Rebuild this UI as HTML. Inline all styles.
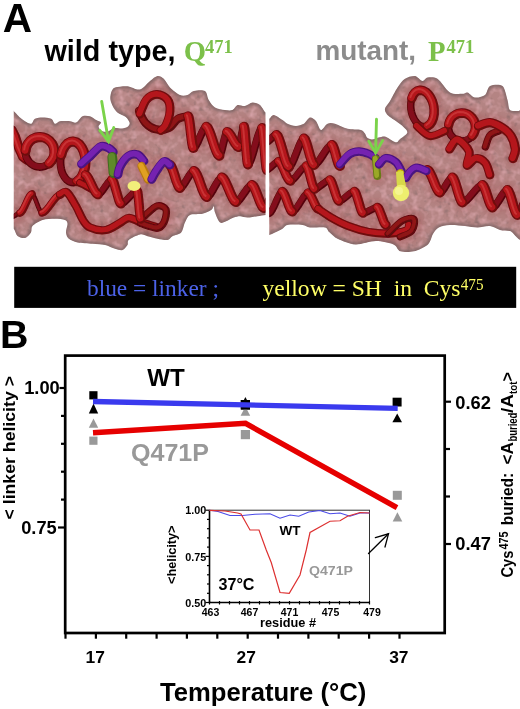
<!DOCTYPE html>
<html><head><meta charset="utf-8"><title>Figure</title>
<style>
html,body{margin:0;padding:0;background:#fff;}
svg{display:block}
.sb{font-family:"Liberation Sans",sans-serif;font-weight:bold}
.tb{font-family:"Liberation Serif",serif;font-weight:bold}
.tr{font-family:"Liberation Serif",serif}
</style></head><body>
<svg width="520" height="709" viewBox="0 0 520 709">
<rect width="520" height="709" fill="#fff"/>
<!-- PANEL A TITLES -->
<text class="sb" x="2.7" y="32.1" font-size="40.6">A</text>
<text class="sb" x="44.5" y="60.7" font-size="28.7" textLength="131" lengthAdjust="spacingAndGlyphs">wild type,</text>
<text class="tb" x="183.7" y="61.2" font-size="28.7" fill="#7cc04a">Q</text>
<text class="tb" x="205" y="52.5" font-size="18.5" fill="#7cc04a">471</text>
<text class="sb" x="315.4" y="60.4" font-size="28" fill="#8c8c8c" textLength="100.6" lengthAdjust="spacingAndGlyphs">mutant,</text>
<text class="tb" x="428" y="61" font-size="28.7" fill="#7cc04a">P</text>
<text class="tb" x="446.5" y="53" font-size="18.5" fill="#7cc04a">471</text>
<!-- PROTEINS -->
<defs>
<filter id="mott" x="0" y="0" width="100%" height="100%" color-interpolation-filters="sRGB">
<feTurbulence type="fractalNoise" baseFrequency="0.16" numOctaves="2" seed="7" result="n"/>
<feColorMatrix in="n" type="matrix" values="0 0 0 0 0.84  0 0 0 0 0.64  0 0 0 0 0.66  2.2 0 0 0 -0.95" result="light"/>
<feColorMatrix in="n" type="matrix" values="0 0 0 0 0.5  0 0 0 0 0.4  0 0 0 0 0.4  0 -2.0 0 0 0.85" result="dark"/>
<feMerge result="m"><feMergeNode in="SourceGraphic"/><feMergeNode in="dark"/><feMergeNode in="light"/></feMerge>
<feComposite in="m" in2="SourceGraphic" operator="in"/>
</filter>
<filter id="soft" x="-5%" y="-5%" width="110%" height="110%"><feGaussianBlur stdDeviation="0.7"/></filter>
<filter id="soft2" x="-5%" y="-5%" width="110%" height="110%"><feGaussianBlur stdDeviation="0.5"/></filter>
<filter id="rim" x="-5%" y="-5%" width="110%" height="110%"><feGaussianBlur stdDeviation="1.3"/></filter>
<filter id="shad" x="-10%" y="-10%" width="120%" height="120%"><feGaussianBlur stdDeviation="4"/></filter>
<clipPath id="clipL"><rect x="13.75" y="60" width="251.75" height="200"/></clipPath>
<clipPath id="clipR"><rect x="269.25" y="60" width="251" height="200"/></clipPath>
<clipPath id="blobL"><path d="M13.8,111.2C15.4,112.1 18.3,116.0 20.0,117.5C21.7,119.0 23.3,120.3 25.0,121.2C26.7,122.2 29.8,124.1 31.2,123.8C32.8,123.4 33.3,119.7 35.0,118.8C36.7,117.8 40.1,117.5 42.5,117.5C44.9,117.5 49.4,117.8 51.2,118.8C53.1,119.7 53.7,123.4 55.0,123.8C56.3,124.1 57.8,121.6 60.0,121.2C62.2,120.9 67.6,121.1 70.0,121.2C72.4,121.4 74.4,123.2 76.2,122.5C78.1,121.8 80.4,117.2 82.5,116.2C84.6,115.3 87.9,115.7 90.0,116.2C92.1,116.8 94.6,119.1 96.2,120.0C97.9,120.9 100.7,121.5 101.0,122.5C101.3,123.5 98.4,125.2 98.5,126.5C98.6,127.8 100.1,130.2 101.5,131.0C102.9,131.8 106.1,131.9 108.0,131.5C109.9,131.1 111.9,128.4 114.0,128.0C116.1,127.5 119.9,128.7 122.0,128.5C124.1,128.3 126.9,127.4 128.0,126.5C129.1,125.6 129.9,124.1 129.6,122.7C129.3,121.3 127.5,118.5 125.8,117.0C124.1,115.5 119.9,114.5 118.0,113.0C116.1,111.5 114.4,109.3 113.3,107.3C112.2,105.3 110.7,101.9 110.4,99.6C110.1,97.3 110.6,93.8 111.3,92.0C112.0,90.2 112.6,88.4 115.0,87.5C117.4,86.6 123.8,86.0 127.5,86.2C131.2,86.5 136.6,90.3 140.0,89.5C143.4,88.7 147.4,83.0 150.0,81.0C152.6,79.0 155.4,76.3 157.5,76.0C159.6,75.7 161.9,77.0 163.8,78.8C165.6,80.5 167.6,85.1 170.0,87.5C172.4,89.9 177.4,93.9 180.0,95.0C182.6,96.1 185.4,95.6 187.5,95.0C189.6,94.4 191.1,91.6 193.8,91.0C196.4,90.4 202.8,89.7 205.0,91.0C207.2,92.3 207.2,97.5 208.8,100.0C210.2,102.5 212.6,106.0 215.0,107.5C217.4,109.0 222.4,109.6 225.0,110.0C227.6,110.4 230.6,110.8 232.5,110.0C234.4,109.2 235.6,105.6 237.5,105.0C239.4,104.4 242.8,106.4 245.0,106.0C247.2,105.6 250.2,102.7 252.5,102.5C254.8,102.3 258.1,103.5 260.0,105.0C261.9,106.5 264.0,111.3 265.5,112.5C267.0,113.7 269.3,97.6 270.0,113.0C270.7,128.4 270.7,199.7 270.0,215.0C269.3,230.3 267.4,214.8 265.5,215.0C263.6,215.2 260.2,215.9 257.5,216.2C254.8,216.6 250.1,217.5 247.5,217.5C244.9,217.5 242.1,216.2 240.0,216.2C237.9,216.2 235.8,216.8 233.8,217.5C231.7,218.2 228.3,220.5 226.2,221.2C224.2,222.0 221.7,223.8 220.0,222.5C218.3,221.2 215.9,214.9 215.0,212.5C214.1,210.1 214.3,206.6 213.8,206.2C213.2,205.9 212.9,208.9 211.2,210.0C209.6,211.1 205.7,213.0 202.5,213.8C199.3,214.5 192.6,213.7 190.0,215.0C187.4,216.3 186.3,219.9 185.0,222.5C183.7,225.1 183.1,230.4 181.2,232.5C179.4,234.6 174.6,235.1 172.5,236.2C170.4,237.4 169.8,239.6 167.5,240.0C165.2,240.4 160.5,239.3 157.5,238.8C154.5,238.2 150.1,236.9 147.5,236.2C144.9,235.6 142.8,233.9 140.0,234.5C137.2,235.1 130.6,238.4 128.8,240.0C126.9,241.6 128.4,243.5 127.5,245.0C126.6,246.5 124.4,249.4 122.5,250.0C120.6,250.6 117.6,249.5 115.0,248.8C112.4,248.0 108.4,245.8 105.0,245.0C101.6,244.2 96.6,244.1 92.5,243.8C88.4,243.4 81.1,243.2 77.5,242.5C73.9,241.8 70.5,240.2 68.8,238.8C67.0,237.2 66.2,234.8 66.0,232.5C65.8,230.2 67.7,225.6 67.5,223.8C67.3,221.9 66.9,220.8 65.0,220.0C63.1,219.2 58.4,218.8 55.0,218.8C51.6,218.8 45.9,218.9 42.5,220.0C39.1,221.1 34.2,224.1 32.5,226.0C30.8,227.9 32.1,230.7 31.0,232.5C29.9,234.3 27.0,237.5 25.0,238.0C23.0,238.5 19.2,237.4 17.5,236.0C15.8,234.6 15.0,230.2 13.8,228.8C12.5,227.2 9.7,243.5 9.0,226.0C8.3,208.5 8.3,129.2 9.0,112.0C9.7,94.8 12.1,110.4 13.8,111.2Z"/></clipPath>
<clipPath id="blobR"><path d="M265.0,120.0C265.6,102.4 267.9,119.5 269.2,118.8C270.6,118.0 271.8,114.8 273.8,115.0C275.7,115.2 280.4,118.7 282.5,120.0C284.6,121.3 285.5,122.8 287.5,123.8C289.5,124.7 293.6,126.0 296.0,126.0C298.4,126.0 301.6,125.0 303.8,123.8C305.9,122.5 308.2,117.9 310.0,117.5C311.8,117.1 314.4,119.1 316.0,121.0C317.6,122.9 319.3,129.6 321.0,130.0C322.7,130.4 325.4,124.7 327.5,123.8C329.6,122.8 332.0,123.0 335.0,123.8C338.0,124.5 343.6,127.8 347.5,128.8C351.4,129.7 358.4,129.3 361.0,130.0C363.6,130.7 364.1,132.5 365.0,133.6C365.9,134.7 365.9,136.6 367.0,137.5C368.1,138.4 370.3,139.5 372.0,139.5C373.7,139.5 376.6,137.9 378.5,137.5C380.4,137.1 383.0,136.1 385.0,136.5C387.0,136.9 390.2,139.5 392.0,140.4C393.8,141.3 395.6,142.5 396.7,142.3C397.8,142.2 398.0,140.8 399.6,139.4C401.2,138.0 406.7,134.6 407.3,132.7C407.9,130.8 405.2,128.8 403.5,127.0C401.8,125.2 398.3,122.9 395.8,121.0C393.3,119.1 388.6,116.3 387.0,114.4C385.4,112.5 384.6,110.6 385.0,108.6C385.4,106.6 388.1,104.2 390.0,101.0C391.9,97.8 395.2,90.8 397.5,87.5C399.8,84.2 402.4,80.5 405.0,78.8C407.6,77.0 412.4,75.7 415.0,76.0C417.6,76.3 420.6,80.8 422.5,81.0C424.4,81.2 425.2,77.8 427.5,77.5C429.8,77.2 434.1,76.5 437.5,78.8C440.9,81.0 446.2,90.2 450.0,92.5C453.8,94.8 459.9,93.8 462.5,93.8C465.1,93.8 465.6,91.9 467.5,92.5C469.4,93.1 472.4,97.1 475.0,97.5C477.6,97.9 482.8,96.7 485.0,95.0C487.2,93.3 487.4,87.3 490.0,86.0C492.6,84.7 499.9,83.9 502.5,86.0C505.1,88.1 506.4,96.4 507.5,100.0C508.6,103.6 508.3,108.3 510.0,110.0C511.7,111.7 516.5,110.7 518.8,111.0C521.0,111.3 524.1,93.8 525.0,112.0C525.9,130.2 527.2,214.7 525.0,232.5C522.8,250.3 513.8,231.4 510.0,231.0C506.2,230.6 503.0,230.8 500.0,230.0C497.0,229.2 493.4,226.4 490.0,226.0C486.6,225.6 481.2,227.5 477.5,227.5C473.8,227.5 469.1,226.4 465.0,226.0C460.9,225.6 453.9,224.8 450.0,225.0C446.1,225.2 441.3,226.2 438.8,227.5C436.2,228.8 434.6,231.5 433.0,234.0C431.4,236.5 430.9,241.8 428.0,244.4C425.1,247.0 418.1,250.3 414.0,251.3C409.9,252.3 403.5,252.3 400.4,251.3C397.3,250.3 397.2,245.9 393.5,244.4C389.8,242.9 381.7,241.0 376.0,241.0C370.3,241.0 361.1,244.7 355.4,244.4C349.7,244.1 341.9,240.8 338.0,239.0C334.1,237.2 331.3,234.0 329.4,232.3C327.4,230.6 327.9,228.2 325.0,227.5C322.1,226.8 313.4,227.9 310.0,227.5C306.6,227.1 305.9,225.4 302.5,225.0C299.1,224.6 290.5,224.4 287.5,225.0C284.5,225.6 284.4,227.6 282.5,228.8C280.6,229.9 277.0,231.6 275.0,232.5C273.0,233.4 270.8,234.5 269.2,235.0C267.8,235.5 265.6,253.2 265.0,236.0C264.4,218.8 264.4,137.6 265.0,120.0Z"/></clipPath>
</defs>
<g id="protL" clip-path="url(#clipL)">
<g filter="url(#soft)"><path d="M13.8,111.2C15.4,112.1 18.3,116.0 20.0,117.5C21.7,119.0 23.3,120.3 25.0,121.2C26.7,122.2 29.8,124.1 31.2,123.8C32.8,123.4 33.3,119.7 35.0,118.8C36.7,117.8 40.1,117.5 42.5,117.5C44.9,117.5 49.4,117.8 51.2,118.8C53.1,119.7 53.7,123.4 55.0,123.8C56.3,124.1 57.8,121.6 60.0,121.2C62.2,120.9 67.6,121.1 70.0,121.2C72.4,121.4 74.4,123.2 76.2,122.5C78.1,121.8 80.4,117.2 82.5,116.2C84.6,115.3 87.9,115.7 90.0,116.2C92.1,116.8 94.6,119.1 96.2,120.0C97.9,120.9 100.7,121.5 101.0,122.5C101.3,123.5 98.4,125.2 98.5,126.5C98.6,127.8 100.1,130.2 101.5,131.0C102.9,131.8 106.1,131.9 108.0,131.5C109.9,131.1 111.9,128.4 114.0,128.0C116.1,127.5 119.9,128.7 122.0,128.5C124.1,128.3 126.9,127.4 128.0,126.5C129.1,125.6 129.9,124.1 129.6,122.7C129.3,121.3 127.5,118.5 125.8,117.0C124.1,115.5 119.9,114.5 118.0,113.0C116.1,111.5 114.4,109.3 113.3,107.3C112.2,105.3 110.7,101.9 110.4,99.6C110.1,97.3 110.6,93.8 111.3,92.0C112.0,90.2 112.6,88.4 115.0,87.5C117.4,86.6 123.8,86.0 127.5,86.2C131.2,86.5 136.6,90.3 140.0,89.5C143.4,88.7 147.4,83.0 150.0,81.0C152.6,79.0 155.4,76.3 157.5,76.0C159.6,75.7 161.9,77.0 163.8,78.8C165.6,80.5 167.6,85.1 170.0,87.5C172.4,89.9 177.4,93.9 180.0,95.0C182.6,96.1 185.4,95.6 187.5,95.0C189.6,94.4 191.1,91.6 193.8,91.0C196.4,90.4 202.8,89.7 205.0,91.0C207.2,92.3 207.2,97.5 208.8,100.0C210.2,102.5 212.6,106.0 215.0,107.5C217.4,109.0 222.4,109.6 225.0,110.0C227.6,110.4 230.6,110.8 232.5,110.0C234.4,109.2 235.6,105.6 237.5,105.0C239.4,104.4 242.8,106.4 245.0,106.0C247.2,105.6 250.2,102.7 252.5,102.5C254.8,102.3 258.1,103.5 260.0,105.0C261.9,106.5 264.0,111.3 265.5,112.5C267.0,113.7 269.3,97.6 270.0,113.0C270.7,128.4 270.7,199.7 270.0,215.0C269.3,230.3 267.4,214.8 265.5,215.0C263.6,215.2 260.2,215.9 257.5,216.2C254.8,216.6 250.1,217.5 247.5,217.5C244.9,217.5 242.1,216.2 240.0,216.2C237.9,216.2 235.8,216.8 233.8,217.5C231.7,218.2 228.3,220.5 226.2,221.2C224.2,222.0 221.7,223.8 220.0,222.5C218.3,221.2 215.9,214.9 215.0,212.5C214.1,210.1 214.3,206.6 213.8,206.2C213.2,205.9 212.9,208.9 211.2,210.0C209.6,211.1 205.7,213.0 202.5,213.8C199.3,214.5 192.6,213.7 190.0,215.0C187.4,216.3 186.3,219.9 185.0,222.5C183.7,225.1 183.1,230.4 181.2,232.5C179.4,234.6 174.6,235.1 172.5,236.2C170.4,237.4 169.8,239.6 167.5,240.0C165.2,240.4 160.5,239.3 157.5,238.8C154.5,238.2 150.1,236.9 147.5,236.2C144.9,235.6 142.8,233.9 140.0,234.5C137.2,235.1 130.6,238.4 128.8,240.0C126.9,241.6 128.4,243.5 127.5,245.0C126.6,246.5 124.4,249.4 122.5,250.0C120.6,250.6 117.6,249.5 115.0,248.8C112.4,248.0 108.4,245.8 105.0,245.0C101.6,244.2 96.6,244.1 92.5,243.8C88.4,243.4 81.1,243.2 77.5,242.5C73.9,241.8 70.5,240.2 68.8,238.8C67.0,237.2 66.2,234.8 66.0,232.5C65.8,230.2 67.7,225.6 67.5,223.8C67.3,221.9 66.9,220.8 65.0,220.0C63.1,219.2 58.4,218.8 55.0,218.8C51.6,218.8 45.9,218.9 42.5,220.0C39.1,221.1 34.2,224.1 32.5,226.0C30.8,227.9 32.1,230.7 31.0,232.5C29.9,234.3 27.0,237.5 25.0,238.0C23.0,238.5 19.2,237.4 17.5,236.0C15.8,234.6 15.0,230.2 13.8,228.8C12.5,227.2 9.7,243.5 9.0,226.0C8.3,208.5 8.3,129.2 9.0,112.0C9.7,94.8 12.1,110.4 13.8,111.2Z" fill="#b48483" filter="url(#mott)"/><g clip-path="url(#blobL)"><path d="M13.8,111.2C15.4,112.1 18.3,116.0 20.0,117.5C21.7,119.0 23.3,120.3 25.0,121.2C26.7,122.2 29.8,124.1 31.2,123.8C32.8,123.4 33.3,119.7 35.0,118.8C36.7,117.8 40.1,117.5 42.5,117.5C44.9,117.5 49.4,117.8 51.2,118.8C53.1,119.7 53.7,123.4 55.0,123.8C56.3,124.1 57.8,121.6 60.0,121.2C62.2,120.9 67.6,121.1 70.0,121.2C72.4,121.4 74.4,123.2 76.2,122.5C78.1,121.8 80.4,117.2 82.5,116.2C84.6,115.3 87.9,115.7 90.0,116.2C92.1,116.8 94.6,119.1 96.2,120.0C97.9,120.9 100.7,121.5 101.0,122.5C101.3,123.5 98.4,125.2 98.5,126.5C98.6,127.8 100.1,130.2 101.5,131.0C102.9,131.8 106.1,131.9 108.0,131.5C109.9,131.1 111.9,128.4 114.0,128.0C116.1,127.5 119.9,128.7 122.0,128.5C124.1,128.3 126.9,127.4 128.0,126.5C129.1,125.6 129.9,124.1 129.6,122.7C129.3,121.3 127.5,118.5 125.8,117.0C124.1,115.5 119.9,114.5 118.0,113.0C116.1,111.5 114.4,109.3 113.3,107.3C112.2,105.3 110.7,101.9 110.4,99.6C110.1,97.3 110.6,93.8 111.3,92.0C112.0,90.2 112.6,88.4 115.0,87.5C117.4,86.6 123.8,86.0 127.5,86.2C131.2,86.5 136.6,90.3 140.0,89.5C143.4,88.7 147.4,83.0 150.0,81.0C152.6,79.0 155.4,76.3 157.5,76.0C159.6,75.7 161.9,77.0 163.8,78.8C165.6,80.5 167.6,85.1 170.0,87.5C172.4,89.9 177.4,93.9 180.0,95.0C182.6,96.1 185.4,95.6 187.5,95.0C189.6,94.4 191.1,91.6 193.8,91.0C196.4,90.4 202.8,89.7 205.0,91.0C207.2,92.3 207.2,97.5 208.8,100.0C210.2,102.5 212.6,106.0 215.0,107.5C217.4,109.0 222.4,109.6 225.0,110.0C227.6,110.4 230.6,110.8 232.5,110.0C234.4,109.2 235.6,105.6 237.5,105.0C239.4,104.4 242.8,106.4 245.0,106.0C247.2,105.6 250.2,102.7 252.5,102.5C254.8,102.3 258.1,103.5 260.0,105.0C261.9,106.5 264.0,111.3 265.5,112.5C267.0,113.7 269.3,97.6 270.0,113.0C270.7,128.4 270.7,199.7 270.0,215.0C269.3,230.3 267.4,214.8 265.5,215.0C263.6,215.2 260.2,215.9 257.5,216.2C254.8,216.6 250.1,217.5 247.5,217.5C244.9,217.5 242.1,216.2 240.0,216.2C237.9,216.2 235.8,216.8 233.8,217.5C231.7,218.2 228.3,220.5 226.2,221.2C224.2,222.0 221.7,223.8 220.0,222.5C218.3,221.2 215.9,214.9 215.0,212.5C214.1,210.1 214.3,206.6 213.8,206.2C213.2,205.9 212.9,208.9 211.2,210.0C209.6,211.1 205.7,213.0 202.5,213.8C199.3,214.5 192.6,213.7 190.0,215.0C187.4,216.3 186.3,219.9 185.0,222.5C183.7,225.1 183.1,230.4 181.2,232.5C179.4,234.6 174.6,235.1 172.5,236.2C170.4,237.4 169.8,239.6 167.5,240.0C165.2,240.4 160.5,239.3 157.5,238.8C154.5,238.2 150.1,236.9 147.5,236.2C144.9,235.6 142.8,233.9 140.0,234.5C137.2,235.1 130.6,238.4 128.8,240.0C126.9,241.6 128.4,243.5 127.5,245.0C126.6,246.5 124.4,249.4 122.5,250.0C120.6,250.6 117.6,249.5 115.0,248.8C112.4,248.0 108.4,245.8 105.0,245.0C101.6,244.2 96.6,244.1 92.5,243.8C88.4,243.4 81.1,243.2 77.5,242.5C73.9,241.8 70.5,240.2 68.8,238.8C67.0,237.2 66.2,234.8 66.0,232.5C65.8,230.2 67.7,225.6 67.5,223.8C67.3,221.9 66.9,220.8 65.0,220.0C63.1,219.2 58.4,218.8 55.0,218.8C51.6,218.8 45.9,218.9 42.5,220.0C39.1,221.1 34.2,224.1 32.5,226.0C30.8,227.9 32.1,230.7 31.0,232.5C29.9,234.3 27.0,237.5 25.0,238.0C23.0,238.5 19.2,237.4 17.5,236.0C15.8,234.6 15.0,230.2 13.8,228.8C12.5,227.2 9.7,243.5 9.0,226.0C8.3,208.5 8.3,129.2 9.0,112.0C9.7,94.8 12.1,110.4 13.8,111.2Z" fill="none" stroke="#7d6464" stroke-width="5" opacity="0.75" filter="url(#rim)"/></g></g>
<g clip-path="url(#blobL)"><g fill="none" stroke="#98282c" stroke-width="14" stroke-linecap="round" opacity="0.3" filter="url(#shad)"><path d="M12.0,217.0L12.8,216.8L13.8,216.4L14.9,215.8L16.0,215.0L17.1,214.2L18.2,213.6L19.2,213.2L20.0,213.0"/><path d="M20.0,213.0L21.2,212.3L22.7,210.2L24.3,207.1L26.0,203.5L27.7,199.9L29.3,196.8L30.8,194.7L32.0,194.0"/><path d="M32.0,194.0L33.0,194.7L34.2,196.8L35.6,199.9L37.0,203.5L38.4,207.1L39.8,210.2L41.0,212.3L42.0,213.0"/><path d="M42.0,213.0L43.9,212.3L46.0,210.4L48.5,207.4L51.0,204.0L53.5,200.6L56.0,197.6L58.1,195.7L60.0,195.0"/><path d="M60.0,194.6C61.2,194.2 64.3,190.6 67.0,192.5C69.7,194.4 73.3,201.4 76.0,206.0C78.7,210.6 80.7,216.4 83.0,220.0C85.3,223.6 86.2,225.8 90.0,227.5C93.8,229.2 101.0,230.8 106.0,230.0C111.0,229.2 116.2,225.0 120.0,223.0C123.8,221.0 125.5,218.1 129.0,218.0C132.5,217.9 136.1,220.7 140.8,222.3C145.5,223.9 154.3,226.6 157.0,227.5"/><path d="M145.4,215.4C147.3,213.8 153.6,207.0 157.0,206.0C160.4,205.0 164.8,206.9 166.0,209.6C167.2,212.3 165.5,219.2 164.0,222.3C162.5,225.4 160.9,227.8 157.0,228.0C153.1,228.2 143.5,224.2 140.8,223.5"/><path d="M12.0,130.0L15.0,136.0L19.0,148.0L23.0,157.0L27.0,160.0"/><path d="M25.6,150.7L25.5,152.9L25.8,155.1L26.4,157.2L27.3,159.2L28.4,161.1L29.9,162.7L31.5,164.1L33.3,165.3L35.3,166.2L37.3,166.7L39.4,167.0L41.6,166.9L43.7,166.5L45.7,165.8L47.6,164.8L49.3,163.5"/><path d="M49.3,163.5L51.7,160.8L53.5,157.6L54.4,154.0L54.4,150.4L53.6,146.8L52.0,143.5L49.6,140.8L46.7,138.7L43.4,137.4L39.8,137.0L36.3,137.5L33.0,138.8L30.1,141.0L27.9,143.8L26.3,147.1L25.6,150.7"/><path d="M61.3,155.0L60.8,157.8L60.5,160.7L60.5,163.6L60.8,166.4L61.3,169.2L62.0,171.9L63.0,174.3L64.2,176.5L65.5,178.4L67.0,180.0L68.6,181.2L70.3,182.0L72.0,182.4L73.8,182.5L75.6,182.1L77.3,181.3"/><path d="M77.3,181.3L80.1,178.9L82.4,175.5L84.1,171.3L85.2,166.4L85.5,161.3L85.0,156.3L83.8,151.6L81.8,147.5L79.4,144.4L76.5,142.3L73.4,141.5L70.3,142.0L67.3,143.7L64.8,146.6L62.7,150.4L61.3,155.0"/><path d="M80.0,183.0C81.0,183.5 83.8,184.8 86.0,186.0C88.2,187.2 91.8,189.3 93.0,190.0"/><path d="M85.4,175.0L86.7,175.7L88.2,177.9L89.9,181.0L91.7,184.8L93.5,188.6L95.2,191.7L96.7,193.9L98.0,194.6"/><path d="M98.0,194.6L99.4,194.0L101.1,192.4L103.0,190.0L105.0,187.1L107.0,184.2L108.9,181.8L110.6,180.2L112.0,179.6"/><path d="M112.0,179.6L112.9,180.5L114.0,183.1L115.2,187.1L116.5,191.7L117.8,196.3L119.0,200.3L120.1,202.9L121.0,203.8"/><path d="M121.0,203.8L122.7,203.3L124.7,201.9L126.8,199.8L129.2,197.4L131.5,195.0L133.6,192.9L135.6,191.5L137.3,191.0"/><path d="M137.3,191.0L137.7,192.1L138.1,195.1L138.6,199.6L139.1,204.9L139.5,210.2L140.0,214.7L140.4,217.7L140.8,218.8"/><path d="M170.0,165.0L171.0,165.9L172.2,168.4L173.6,172.1L175.0,176.5L176.4,180.9L177.8,184.6L179.0,187.1L180.0,188.0"/><path d="M180.0,188.0L181.4,187.4L183.1,185.5L185.0,182.8L187.0,179.5L189.0,176.2L190.9,173.5L192.6,171.6L194.0,171.0"/><path d="M194.0,171.0L195.3,172.0L196.9,174.8L198.7,179.0L200.5,184.0L202.3,189.0L204.1,193.2L205.7,196.0L207.0,197.0"/><path d="M207.0,197.0L208.5,196.3L210.4,194.1L212.4,191.0L214.5,187.2L216.6,183.5L218.6,180.4L220.5,178.2L222.0,177.5"/><path d="M222.0,177.5L223.4,178.4L225.1,181.1L227.0,185.1L229.0,189.8L231.0,194.4L232.9,198.4L234.6,201.1L236.0,202.0"/><path d="M236.0,202.0L237.7,201.4L239.6,199.5L241.7,196.8L244.0,193.5L246.3,190.2L248.4,187.5L250.3,185.6L252.0,185.0"/><path d="M252.0,185.0L253.2,185.9L254.7,188.4L256.3,192.1L258.0,196.5L259.7,200.9L261.3,204.6L262.8,207.1L264.0,208.0"/><path d="M264.0,208.0L264.8,207.5L265.8,206.2L266.9,204.3L268.0,202.0L269.1,199.7L270.2,197.8L271.2,196.5L272.0,196.0"/><path d="M139.0,111.0C140.1,113.0 142.6,119.8 145.4,122.8C148.2,125.8 151.9,128.4 155.8,129.3C159.7,130.2 165.0,129.7 168.7,128.0C172.4,126.3 174.6,121.0 177.8,119.0C181.1,117.0 186.5,116.8 188.2,116.3"/><path d="M140.0,114.0C141.1,111.6 143.9,102.8 146.7,99.5C149.5,96.2 153.5,94.3 157.0,94.3C160.5,94.3 165.3,96.7 167.5,99.5C169.7,102.3 170.2,106.7 170.0,111.0C169.8,115.3 167.5,122.1 166.0,125.4C164.5,128.7 161.8,129.7 161.0,130.6"/><path d="M188.2,116.3L188.7,117.5L189.4,120.9L190.1,126.1L190.8,132.2L191.5,138.2L192.2,143.4L192.9,146.8L193.4,148.0"/><path d="M193.4,148.0L194.7,147.2L196.3,144.9L198.1,141.4L199.9,137.3L201.7,133.3L203.5,129.8L205.1,127.5L206.4,126.7"/><path d="M206.4,126.7L207.7,127.8L209.3,131.0L211.1,135.7L212.9,141.2L214.7,146.8L216.5,151.5L218.1,154.7L219.4,155.8"/><path d="M219.4,155.8L220.2,154.9L221.1,152.3L222.2,148.5L223.3,143.9L224.4,139.3L225.5,135.5L226.4,132.9L227.2,132.0"/><path d="M227.2,132.0L228.4,132.6L229.8,134.2L231.4,136.6L233.0,139.5L234.6,142.4L236.2,144.8L237.6,146.4L238.8,147.0"/><path d="M238.8,147.0L239.3,146.2L240.0,144.0L240.7,140.7L241.4,136.8L242.1,133.0L242.8,129.7L243.5,127.5L244.0,126.7"/><path d="M244.0,126.7L244.4,128.1L244.9,132.2L245.4,138.3L246.0,145.6L246.6,152.8L247.1,158.9L247.6,163.0L248.0,164.4"/><path d="M248.0,164.4L249.5,163.0L251.2,159.1L253.1,153.2L255.1,146.2L257.1,139.2L259.0,133.3L260.7,129.4L262.2,128.0"/><path d="M262.2,128.0L262.7,129.6L263.3,134.2L263.9,141.0L264.6,149.0L265.3,157.0L265.9,163.8L266.5,168.4L267.0,170.0"/><path d="M81.5,164.0C83.1,162.6 87.8,158.3 91.0,155.4C94.2,152.5 97.9,147.7 100.8,146.5C103.7,145.3 106.4,147.1 108.5,148.0C110.6,148.9 112.5,151.3 113.3,152.0"/><path d="M112.3,157.0C112.5,159.7 113.3,170.3 113.5,173.0"/><path d="M118.0,174.6C118.3,173.3 118.4,170.0 120.0,167.0C121.6,164.0 124.8,158.6 127.7,156.5C130.6,154.4 134.6,153.8 137.3,154.6C140.0,155.3 142.9,159.9 144.0,161.0"/><path d="M141.5,166.0C142.6,168.2 146.9,177.2 148.0,179.5"/><path d="M151.7,179.4C152.5,178.0 154.4,173.8 156.5,170.8C158.6,167.8 161.9,162.5 164.2,161.5C166.4,160.5 169.0,164.4 170.0,165.0"/></g></g>
<g fill="none" stroke-linecap="round" stroke-linejoin="round" filter="url(#soft2)">
<path d="M12.0,217.0L12.8,216.8L13.8,216.4L14.9,215.8L16.0,215.0L17.1,214.2L18.2,213.6L19.2,213.2L20.0,213.0" stroke="#56060a" stroke-width="4.7" />
<path d="M12.0,217.0L12.8,216.8L13.8,216.4L14.9,215.8L16.0,215.0L17.1,214.2L18.2,213.6L19.2,213.2L20.0,213.0" stroke="#84101a" stroke-width="2.5" transform="translate(-0.5,-0.4)"/>
<path d="M32.0,194.0L33.0,194.7L34.2,196.8L35.6,199.9L37.0,203.5L38.4,207.1L39.8,210.2L41.0,212.3L42.0,213.0" stroke="#56060a" stroke-width="4.7" />
<path d="M32.0,194.0L33.0,194.7L34.2,196.8L35.6,199.9L37.0,203.5L38.4,207.1L39.8,210.2L41.0,212.3L42.0,213.0" stroke="#84101a" stroke-width="2.5" transform="translate(-0.5,-0.4)"/>
<path d="M20.0,213.0L21.2,212.3L22.7,210.2L24.3,207.1L26.0,203.5L27.7,199.9L29.3,196.8L30.8,194.7L32.0,194.0" stroke="#6e080b" stroke-width="7.5" />
<path d="M20.0,213.0L21.2,212.3L22.7,210.2L24.3,207.1L26.0,203.5L27.7,199.9L29.3,196.8L30.8,194.7L32.0,194.0" stroke="#b4161a" stroke-width="4.5" transform="translate(-0.6,-0.5)"/>
<path d="M20.0,213.0L21.2,212.3L22.7,210.2L24.3,207.1L26.0,203.5L27.7,199.9L29.3,196.8L30.8,194.7L32.0,194.0" stroke="#cf3c3e" stroke-width="2" opacity="0.75" transform="translate(-1.4,-1.1)"/>
<path d="M42.0,213.0L43.9,212.3L46.0,210.4L48.5,207.4L51.0,204.0L53.5,200.6L56.0,197.6L58.1,195.7L60.0,195.0" stroke="#6e080b" stroke-width="7.5" />
<path d="M42.0,213.0L43.9,212.3L46.0,210.4L48.5,207.4L51.0,204.0L53.5,200.6L56.0,197.6L58.1,195.7L60.0,195.0" stroke="#b4161a" stroke-width="4.5" transform="translate(-0.6,-0.5)"/>
<path d="M42.0,213.0L43.9,212.3L46.0,210.4L48.5,207.4L51.0,204.0L53.5,200.6L56.0,197.6L58.1,195.7L60.0,195.0" stroke="#cf3c3e" stroke-width="2" opacity="0.75" transform="translate(-1.4,-1.1)"/>
<path d="M60.0,194.6C61.2,194.2 64.3,190.6 67.0,192.5C69.7,194.4 73.3,201.4 76.0,206.0C78.7,210.6 80.7,216.4 83.0,220.0C85.3,223.6 86.2,225.8 90.0,227.5C93.8,229.2 101.0,230.8 106.0,230.0C111.0,229.2 116.2,225.0 120.0,223.0C123.8,221.0 125.5,218.1 129.0,218.0C132.5,217.9 136.1,220.7 140.8,222.3C145.5,223.9 154.3,226.6 157.0,227.5" stroke="#6e080b" stroke-width="8.3"/>
<path d="M60.0,194.6C61.2,194.2 64.3,190.6 67.0,192.5C69.7,194.4 73.3,201.4 76.0,206.0C78.7,210.6 80.7,216.4 83.0,220.0C85.3,223.6 86.2,225.8 90.0,227.5C93.8,229.2 101.0,230.8 106.0,230.0C111.0,229.2 116.2,225.0 120.0,223.0C123.8,221.0 125.5,218.1 129.0,218.0C132.5,217.9 136.1,220.7 140.8,222.3C145.5,223.9 154.3,226.6 157.0,227.5" stroke="#b4161a" stroke-width="5.300000000000001" transform="translate(-0.6,-0.5)"/>
<path d="M145.4,215.4C147.3,213.8 153.6,207.0 157.0,206.0C160.4,205.0 164.8,206.9 166.0,209.6C167.2,212.3 165.5,219.2 164.0,222.3C162.5,225.4 160.9,227.8 157.0,228.0C153.1,228.2 143.5,224.2 140.8,223.5" stroke="#5e070a" stroke-width="7.3"/>
<path d="M145.4,215.4C147.3,213.8 153.6,207.0 157.0,206.0C160.4,205.0 164.8,206.9 166.0,209.6C167.2,212.3 165.5,219.2 164.0,222.3C162.5,225.4 160.9,227.8 157.0,228.0C153.1,228.2 143.5,224.2 140.8,223.5" stroke="#8e1218" stroke-width="4.3" transform="translate(-0.6,-0.5)"/>
<path d="M12.0,130.0L15.0,136.0L19.0,148.0L23.0,157.0L27.0,160.0" stroke="#6e080b" stroke-width="9.5" />
<path d="M12.0,130.0L15.0,136.0L19.0,148.0L23.0,157.0L27.0,160.0" stroke="#b4161a" stroke-width="6.5" transform="translate(-0.6,-0.5)"/>
<path d="M12.0,130.0L15.0,136.0L19.0,148.0L23.0,157.0L27.0,160.0" stroke="#cf3c3e" stroke-width="2" opacity="0.75" transform="translate(-1.4,-1.1)"/>
<path d="M25.6,150.7L25.5,152.9L25.8,155.1L26.4,157.2L27.3,159.2L28.4,161.1L29.9,162.7L31.5,164.1L33.3,165.3L35.3,166.2L37.3,166.7L39.4,167.0L41.6,166.9L43.7,166.5L45.7,165.8L47.6,164.8L49.3,163.5" stroke="#56060a" stroke-width="7.8" />
<path d="M25.6,150.7L25.5,152.9L25.8,155.1L26.4,157.2L27.3,159.2L28.4,161.1L29.9,162.7L31.5,164.1L33.3,165.3L35.3,166.2L37.3,166.7L39.4,167.0L41.6,166.9L43.7,166.5L45.7,165.8L47.6,164.8L49.3,163.5" stroke="#84101a" stroke-width="5.6" transform="translate(-0.5,-0.4)"/>
<path d="M49.3,163.5L51.7,160.8L53.5,157.6L54.4,154.0L54.4,150.4L53.6,146.8L52.0,143.5L49.6,140.8L46.7,138.7L43.4,137.4L39.8,137.0L36.3,137.5L33.0,138.8L30.1,141.0L27.9,143.8L26.3,147.1L25.6,150.7" stroke="#6e080b" stroke-width="10" />
<path d="M49.3,163.5L51.7,160.8L53.5,157.6L54.4,154.0L54.4,150.4L53.6,146.8L52.0,143.5L49.6,140.8L46.7,138.7L43.4,137.4L39.8,137.0L36.3,137.5L33.0,138.8L30.1,141.0L27.9,143.8L26.3,147.1L25.6,150.7" stroke="#b4161a" stroke-width="7" transform="translate(-0.6,-0.5)"/>
<path d="M49.3,163.5L51.7,160.8L53.5,157.6L54.4,154.0L54.4,150.4L53.6,146.8L52.0,143.5L49.6,140.8L46.7,138.7L43.4,137.4L39.8,137.0L36.3,137.5L33.0,138.8L30.1,141.0L27.9,143.8L26.3,147.1L25.6,150.7" stroke="#cf3c3e" stroke-width="2" opacity="0.75" transform="translate(-1.4,-1.1)"/>
<path d="M61.3,155.0L60.8,157.8L60.5,160.7L60.5,163.6L60.8,166.4L61.3,169.2L62.0,171.9L63.0,174.3L64.2,176.5L65.5,178.4L67.0,180.0L68.6,181.2L70.3,182.0L72.0,182.4L73.8,182.5L75.6,182.1L77.3,181.3" stroke="#56060a" stroke-width="7.8" />
<path d="M61.3,155.0L60.8,157.8L60.5,160.7L60.5,163.6L60.8,166.4L61.3,169.2L62.0,171.9L63.0,174.3L64.2,176.5L65.5,178.4L67.0,180.0L68.6,181.2L70.3,182.0L72.0,182.4L73.8,182.5L75.6,182.1L77.3,181.3" stroke="#84101a" stroke-width="5.6" transform="translate(-0.5,-0.4)"/>
<path d="M77.3,181.3L80.1,178.9L82.4,175.5L84.1,171.3L85.2,166.4L85.5,161.3L85.0,156.3L83.8,151.6L81.8,147.5L79.4,144.4L76.5,142.3L73.4,141.5L70.3,142.0L67.3,143.7L64.8,146.6L62.7,150.4L61.3,155.0" stroke="#6e080b" stroke-width="10" />
<path d="M77.3,181.3L80.1,178.9L82.4,175.5L84.1,171.3L85.2,166.4L85.5,161.3L85.0,156.3L83.8,151.6L81.8,147.5L79.4,144.4L76.5,142.3L73.4,141.5L70.3,142.0L67.3,143.7L64.8,146.6L62.7,150.4L61.3,155.0" stroke="#b4161a" stroke-width="7" transform="translate(-0.6,-0.5)"/>
<path d="M77.3,181.3L80.1,178.9L82.4,175.5L84.1,171.3L85.2,166.4L85.5,161.3L85.0,156.3L83.8,151.6L81.8,147.5L79.4,144.4L76.5,142.3L73.4,141.5L70.3,142.0L67.3,143.7L64.8,146.6L62.7,150.4L61.3,155.0" stroke="#cf3c3e" stroke-width="2" opacity="0.75" transform="translate(-1.4,-1.1)"/>
<path d="M80.0,183.0C81.0,183.5 83.8,184.8 86.0,186.0C88.2,187.2 91.8,189.3 93.0,190.0" stroke="#6e080b" stroke-width="7.8"/>
<path d="M80.0,183.0C81.0,183.5 83.8,184.8 86.0,186.0C88.2,187.2 91.8,189.3 93.0,190.0" stroke="#b4161a" stroke-width="4.8" transform="translate(-0.6,-0.5)"/>
<path d="M98.0,194.6L99.4,194.0L101.1,192.4L103.0,190.0L105.0,187.1L107.0,184.2L108.9,181.8L110.6,180.2L112.0,179.6" stroke="#56060a" stroke-width="7.3" />
<path d="M98.0,194.6L99.4,194.0L101.1,192.4L103.0,190.0L105.0,187.1L107.0,184.2L108.9,181.8L110.6,180.2L112.0,179.6" stroke="#84101a" stroke-width="5.1" transform="translate(-0.5,-0.4)"/>
<path d="M121.0,203.8L122.7,203.3L124.7,201.9L126.8,199.8L129.2,197.4L131.5,195.0L133.6,192.9L135.6,191.5L137.3,191.0" stroke="#56060a" stroke-width="7.3" />
<path d="M121.0,203.8L122.7,203.3L124.7,201.9L126.8,199.8L129.2,197.4L131.5,195.0L133.6,192.9L135.6,191.5L137.3,191.0" stroke="#84101a" stroke-width="5.1" transform="translate(-0.5,-0.4)"/>
<path d="M85.4,175.0L86.7,175.7L88.2,177.9L89.9,181.0L91.7,184.8L93.5,188.6L95.2,191.7L96.7,193.9L98.0,194.6" stroke="#6e080b" stroke-width="9.5" />
<path d="M85.4,175.0L86.7,175.7L88.2,177.9L89.9,181.0L91.7,184.8L93.5,188.6L95.2,191.7L96.7,193.9L98.0,194.6" stroke="#b4161a" stroke-width="6.5" transform="translate(-0.6,-0.5)"/>
<path d="M85.4,175.0L86.7,175.7L88.2,177.9L89.9,181.0L91.7,184.8L93.5,188.6L95.2,191.7L96.7,193.9L98.0,194.6" stroke="#cf3c3e" stroke-width="2" opacity="0.75" transform="translate(-1.4,-1.1)"/>
<path d="M112.0,179.6L112.9,180.5L114.0,183.1L115.2,187.1L116.5,191.7L117.8,196.3L119.0,200.3L120.1,202.9L121.0,203.8" stroke="#6e080b" stroke-width="9.5" />
<path d="M112.0,179.6L112.9,180.5L114.0,183.1L115.2,187.1L116.5,191.7L117.8,196.3L119.0,200.3L120.1,202.9L121.0,203.8" stroke="#b4161a" stroke-width="6.5" transform="translate(-0.6,-0.5)"/>
<path d="M112.0,179.6L112.9,180.5L114.0,183.1L115.2,187.1L116.5,191.7L117.8,196.3L119.0,200.3L120.1,202.9L121.0,203.8" stroke="#cf3c3e" stroke-width="2" opacity="0.75" transform="translate(-1.4,-1.1)"/>
<path d="M137.3,191.0L137.7,192.1L138.1,195.1L138.6,199.6L139.1,204.9L139.5,210.2L140.0,214.7L140.4,217.7L140.8,218.8" stroke="#6e080b" stroke-width="9.5" />
<path d="M137.3,191.0L137.7,192.1L138.1,195.1L138.6,199.6L139.1,204.9L139.5,210.2L140.0,214.7L140.4,217.7L140.8,218.8" stroke="#b4161a" stroke-width="6.5" transform="translate(-0.6,-0.5)"/>
<path d="M137.3,191.0L137.7,192.1L138.1,195.1L138.6,199.6L139.1,204.9L139.5,210.2L140.0,214.7L140.4,217.7L140.8,218.8" stroke="#cf3c3e" stroke-width="2" opacity="0.75" transform="translate(-1.4,-1.1)"/>
<path d="M180.0,188.0L181.4,187.4L183.1,185.5L185.0,182.8L187.0,179.5L189.0,176.2L190.9,173.5L192.6,171.6L194.0,171.0" stroke="#56060a" stroke-width="7.8" />
<path d="M180.0,188.0L181.4,187.4L183.1,185.5L185.0,182.8L187.0,179.5L189.0,176.2L190.9,173.5L192.6,171.6L194.0,171.0" stroke="#84101a" stroke-width="5.6" transform="translate(-0.5,-0.4)"/>
<path d="M207.0,197.0L208.5,196.3L210.4,194.1L212.4,191.0L214.5,187.2L216.6,183.5L218.6,180.4L220.5,178.2L222.0,177.5" stroke="#56060a" stroke-width="7.8" />
<path d="M207.0,197.0L208.5,196.3L210.4,194.1L212.4,191.0L214.5,187.2L216.6,183.5L218.6,180.4L220.5,178.2L222.0,177.5" stroke="#84101a" stroke-width="5.6" transform="translate(-0.5,-0.4)"/>
<path d="M236.0,202.0L237.7,201.4L239.6,199.5L241.7,196.8L244.0,193.5L246.3,190.2L248.4,187.5L250.3,185.6L252.0,185.0" stroke="#56060a" stroke-width="7.8" />
<path d="M236.0,202.0L237.7,201.4L239.6,199.5L241.7,196.8L244.0,193.5L246.3,190.2L248.4,187.5L250.3,185.6L252.0,185.0" stroke="#84101a" stroke-width="5.6" transform="translate(-0.5,-0.4)"/>
<path d="M264.0,208.0L264.8,207.5L265.8,206.2L266.9,204.3L268.0,202.0L269.1,199.7L270.2,197.8L271.2,196.5L272.0,196.0" stroke="#56060a" stroke-width="7.8" />
<path d="M264.0,208.0L264.8,207.5L265.8,206.2L266.9,204.3L268.0,202.0L269.1,199.7L270.2,197.8L271.2,196.5L272.0,196.0" stroke="#84101a" stroke-width="5.6" transform="translate(-0.5,-0.4)"/>
<path d="M170.0,165.0L171.0,165.9L172.2,168.4L173.6,172.1L175.0,176.5L176.4,180.9L177.8,184.6L179.0,187.1L180.0,188.0" stroke="#6e080b" stroke-width="10" />
<path d="M170.0,165.0L171.0,165.9L172.2,168.4L173.6,172.1L175.0,176.5L176.4,180.9L177.8,184.6L179.0,187.1L180.0,188.0" stroke="#b4161a" stroke-width="7" transform="translate(-0.6,-0.5)"/>
<path d="M170.0,165.0L171.0,165.9L172.2,168.4L173.6,172.1L175.0,176.5L176.4,180.9L177.8,184.6L179.0,187.1L180.0,188.0" stroke="#cf3c3e" stroke-width="2" opacity="0.75" transform="translate(-1.4,-1.1)"/>
<path d="M194.0,171.0L195.3,172.0L196.9,174.8L198.7,179.0L200.5,184.0L202.3,189.0L204.1,193.2L205.7,196.0L207.0,197.0" stroke="#6e080b" stroke-width="10" />
<path d="M194.0,171.0L195.3,172.0L196.9,174.8L198.7,179.0L200.5,184.0L202.3,189.0L204.1,193.2L205.7,196.0L207.0,197.0" stroke="#b4161a" stroke-width="7" transform="translate(-0.6,-0.5)"/>
<path d="M194.0,171.0L195.3,172.0L196.9,174.8L198.7,179.0L200.5,184.0L202.3,189.0L204.1,193.2L205.7,196.0L207.0,197.0" stroke="#cf3c3e" stroke-width="2" opacity="0.75" transform="translate(-1.4,-1.1)"/>
<path d="M222.0,177.5L223.4,178.4L225.1,181.1L227.0,185.1L229.0,189.8L231.0,194.4L232.9,198.4L234.6,201.1L236.0,202.0" stroke="#6e080b" stroke-width="10" />
<path d="M222.0,177.5L223.4,178.4L225.1,181.1L227.0,185.1L229.0,189.8L231.0,194.4L232.9,198.4L234.6,201.1L236.0,202.0" stroke="#b4161a" stroke-width="7" transform="translate(-0.6,-0.5)"/>
<path d="M222.0,177.5L223.4,178.4L225.1,181.1L227.0,185.1L229.0,189.8L231.0,194.4L232.9,198.4L234.6,201.1L236.0,202.0" stroke="#cf3c3e" stroke-width="2" opacity="0.75" transform="translate(-1.4,-1.1)"/>
<path d="M252.0,185.0L253.2,185.9L254.7,188.4L256.3,192.1L258.0,196.5L259.7,200.9L261.3,204.6L262.8,207.1L264.0,208.0" stroke="#6e080b" stroke-width="10" />
<path d="M252.0,185.0L253.2,185.9L254.7,188.4L256.3,192.1L258.0,196.5L259.7,200.9L261.3,204.6L262.8,207.1L264.0,208.0" stroke="#b4161a" stroke-width="7" transform="translate(-0.6,-0.5)"/>
<path d="M252.0,185.0L253.2,185.9L254.7,188.4L256.3,192.1L258.0,196.5L259.7,200.9L261.3,204.6L262.8,207.1L264.0,208.0" stroke="#cf3c3e" stroke-width="2" opacity="0.75" transform="translate(-1.4,-1.1)"/>
<path d="M139.0,111.0C140.1,113.0 142.6,119.8 145.4,122.8C148.2,125.8 151.9,128.4 155.8,129.3C159.7,130.2 165.0,129.7 168.7,128.0C172.4,126.3 174.6,121.0 177.8,119.0C181.1,117.0 186.5,116.8 188.2,116.3" stroke="#5e070a" stroke-width="8.3"/>
<path d="M139.0,111.0C140.1,113.0 142.6,119.8 145.4,122.8C148.2,125.8 151.9,128.4 155.8,129.3C159.7,130.2 165.0,129.7 168.7,128.0C172.4,126.3 174.6,121.0 177.8,119.0C181.1,117.0 186.5,116.8 188.2,116.3" stroke="#8e1218" stroke-width="5.300000000000001" transform="translate(-0.6,-0.5)"/>
<path d="M140.0,114.0C141.1,111.6 143.9,102.8 146.7,99.5C149.5,96.2 153.5,94.3 157.0,94.3C160.5,94.3 165.3,96.7 167.5,99.5C169.7,102.3 170.2,106.7 170.0,111.0C169.8,115.3 167.5,122.1 166.0,125.4C164.5,128.7 161.8,129.7 161.0,130.6" stroke="#6e080b" stroke-width="8.8"/>
<path d="M140.0,114.0C141.1,111.6 143.9,102.8 146.7,99.5C149.5,96.2 153.5,94.3 157.0,94.3C160.5,94.3 165.3,96.7 167.5,99.5C169.7,102.3 170.2,106.7 170.0,111.0C169.8,115.3 167.5,122.1 166.0,125.4C164.5,128.7 161.8,129.7 161.0,130.6" stroke="#b4161a" stroke-width="5.800000000000001" transform="translate(-0.6,-0.5)"/>
<path d="M193.4,148.0L194.7,147.2L196.3,144.9L198.1,141.4L199.9,137.3L201.7,133.3L203.5,129.8L205.1,127.5L206.4,126.7" stroke="#56060a" stroke-width="7.8" />
<path d="M193.4,148.0L194.7,147.2L196.3,144.9L198.1,141.4L199.9,137.3L201.7,133.3L203.5,129.8L205.1,127.5L206.4,126.7" stroke="#84101a" stroke-width="5.6" transform="translate(-0.5,-0.4)"/>
<path d="M219.4,155.8L220.2,154.9L221.1,152.3L222.2,148.5L223.3,143.9L224.4,139.3L225.5,135.5L226.4,132.9L227.2,132.0" stroke="#56060a" stroke-width="7.8" />
<path d="M219.4,155.8L220.2,154.9L221.1,152.3L222.2,148.5L223.3,143.9L224.4,139.3L225.5,135.5L226.4,132.9L227.2,132.0" stroke="#84101a" stroke-width="5.6" transform="translate(-0.5,-0.4)"/>
<path d="M238.8,147.0L239.3,146.2L240.0,144.0L240.7,140.7L241.4,136.8L242.1,133.0L242.8,129.7L243.5,127.5L244.0,126.7" stroke="#56060a" stroke-width="7.8" />
<path d="M238.8,147.0L239.3,146.2L240.0,144.0L240.7,140.7L241.4,136.8L242.1,133.0L242.8,129.7L243.5,127.5L244.0,126.7" stroke="#84101a" stroke-width="5.6" transform="translate(-0.5,-0.4)"/>
<path d="M248.0,164.4L249.5,163.0L251.2,159.1L253.1,153.2L255.1,146.2L257.1,139.2L259.0,133.3L260.7,129.4L262.2,128.0" stroke="#56060a" stroke-width="7.8" />
<path d="M248.0,164.4L249.5,163.0L251.2,159.1L253.1,153.2L255.1,146.2L257.1,139.2L259.0,133.3L260.7,129.4L262.2,128.0" stroke="#84101a" stroke-width="5.6" transform="translate(-0.5,-0.4)"/>
<path d="M188.2,116.3L188.7,117.5L189.4,120.9L190.1,126.1L190.8,132.2L191.5,138.2L192.2,143.4L192.9,146.8L193.4,148.0" stroke="#6e080b" stroke-width="10" />
<path d="M188.2,116.3L188.7,117.5L189.4,120.9L190.1,126.1L190.8,132.2L191.5,138.2L192.2,143.4L192.9,146.8L193.4,148.0" stroke="#b4161a" stroke-width="7" transform="translate(-0.6,-0.5)"/>
<path d="M188.2,116.3L188.7,117.5L189.4,120.9L190.1,126.1L190.8,132.2L191.5,138.2L192.2,143.4L192.9,146.8L193.4,148.0" stroke="#cf3c3e" stroke-width="2" opacity="0.75" transform="translate(-1.4,-1.1)"/>
<path d="M206.4,126.7L207.7,127.8L209.3,131.0L211.1,135.7L212.9,141.2L214.7,146.8L216.5,151.5L218.1,154.7L219.4,155.8" stroke="#6e080b" stroke-width="10" />
<path d="M206.4,126.7L207.7,127.8L209.3,131.0L211.1,135.7L212.9,141.2L214.7,146.8L216.5,151.5L218.1,154.7L219.4,155.8" stroke="#b4161a" stroke-width="7" transform="translate(-0.6,-0.5)"/>
<path d="M206.4,126.7L207.7,127.8L209.3,131.0L211.1,135.7L212.9,141.2L214.7,146.8L216.5,151.5L218.1,154.7L219.4,155.8" stroke="#cf3c3e" stroke-width="2" opacity="0.75" transform="translate(-1.4,-1.1)"/>
<path d="M227.2,132.0L228.4,132.6L229.8,134.2L231.4,136.6L233.0,139.5L234.6,142.4L236.2,144.8L237.6,146.4L238.8,147.0" stroke="#6e080b" stroke-width="10" />
<path d="M227.2,132.0L228.4,132.6L229.8,134.2L231.4,136.6L233.0,139.5L234.6,142.4L236.2,144.8L237.6,146.4L238.8,147.0" stroke="#b4161a" stroke-width="7" transform="translate(-0.6,-0.5)"/>
<path d="M227.2,132.0L228.4,132.6L229.8,134.2L231.4,136.6L233.0,139.5L234.6,142.4L236.2,144.8L237.6,146.4L238.8,147.0" stroke="#cf3c3e" stroke-width="2" opacity="0.75" transform="translate(-1.4,-1.1)"/>
<path d="M244.0,126.7L244.4,128.1L244.9,132.2L245.4,138.3L246.0,145.6L246.6,152.8L247.1,158.9L247.6,163.0L248.0,164.4" stroke="#6e080b" stroke-width="10" />
<path d="M244.0,126.7L244.4,128.1L244.9,132.2L245.4,138.3L246.0,145.6L246.6,152.8L247.1,158.9L247.6,163.0L248.0,164.4" stroke="#b4161a" stroke-width="7" transform="translate(-0.6,-0.5)"/>
<path d="M244.0,126.7L244.4,128.1L244.9,132.2L245.4,138.3L246.0,145.6L246.6,152.8L247.1,158.9L247.6,163.0L248.0,164.4" stroke="#cf3c3e" stroke-width="2" opacity="0.75" transform="translate(-1.4,-1.1)"/>
<path d="M262.2,128.0L262.7,129.6L263.3,134.2L263.9,141.0L264.6,149.0L265.3,157.0L265.9,163.8L266.5,168.4L267.0,170.0" stroke="#6e080b" stroke-width="10" />
<path d="M262.2,128.0L262.7,129.6L263.3,134.2L263.9,141.0L264.6,149.0L265.3,157.0L265.9,163.8L266.5,168.4L267.0,170.0" stroke="#b4161a" stroke-width="7" transform="translate(-0.6,-0.5)"/>
<path d="M262.2,128.0L262.7,129.6L263.3,134.2L263.9,141.0L264.6,149.0L265.3,157.0L265.9,163.8L266.5,168.4L267.0,170.0" stroke="#cf3c3e" stroke-width="2" opacity="0.75" transform="translate(-1.4,-1.1)"/>
<path d="M81.5,164.0C83.1,162.6 87.8,158.3 91.0,155.4C94.2,152.5 97.9,147.7 100.8,146.5C103.7,145.3 106.4,147.1 108.5,148.0C110.6,148.9 112.5,151.3 113.3,152.0" stroke="#4a1280" stroke-width="8.8"/>
<path d="M81.5,164.0C83.1,162.6 87.8,158.3 91.0,155.4C94.2,152.5 97.9,147.7 100.8,146.5C103.7,145.3 106.4,147.1 108.5,148.0C110.6,148.9 112.5,151.3 113.3,152.0" stroke="#7422b0" stroke-width="5.800000000000001" transform="translate(-0.6,-0.5)"/>
<path d="M112.3,157.0C112.5,159.7 113.3,170.3 113.5,173.0" stroke="#3f6a1e" stroke-width="9.8"/>
<path d="M112.3,157.0C112.5,159.7 113.3,170.3 113.5,173.0" stroke="#5e8a2a" stroke-width="6.800000000000001" transform="translate(-0.6,-0.5)"/>
<path d="M118.0,174.6C118.3,173.3 118.4,170.0 120.0,167.0C121.6,164.0 124.8,158.6 127.7,156.5C130.6,154.4 134.6,153.8 137.3,154.6C140.0,155.3 142.9,159.9 144.0,161.0" stroke="#4a1280" stroke-width="8.8"/>
<path d="M118.0,174.6C118.3,173.3 118.4,170.0 120.0,167.0C121.6,164.0 124.8,158.6 127.7,156.5C130.6,154.4 134.6,153.8 137.3,154.6C140.0,155.3 142.9,159.9 144.0,161.0" stroke="#7422b0" stroke-width="5.800000000000001" transform="translate(-0.6,-0.5)"/>
<path d="M141.5,166.0C142.6,168.2 146.9,177.2 148.0,179.5" stroke="#b87a10" stroke-width="8.3"/>
<path d="M141.5,166.0C142.6,168.2 146.9,177.2 148.0,179.5" stroke="#e0a020" stroke-width="5.300000000000001" transform="translate(-0.6,-0.5)"/>
<path d="M151.7,179.4C152.5,178.0 154.4,173.8 156.5,170.8C158.6,167.8 161.9,162.5 164.2,161.5C166.4,160.5 169.0,164.4 170.0,165.0" stroke="#4a1280" stroke-width="8.8"/>
<path d="M151.7,179.4C152.5,178.0 154.4,173.8 156.5,170.8C158.6,167.8 161.9,162.5 164.2,161.5C166.4,160.5 169.0,164.4 170.0,165.0" stroke="#7422b0" stroke-width="5.800000000000001" transform="translate(-0.6,-0.5)"/>
<ellipse cx="134" cy="186" rx="6.5" ry="5" fill="#f2ee7a"/>
</g>
<g fill="none" stroke="#7bd34a" stroke-width="2.9" stroke-linecap="round"><line x1="101.7" y1="101.5" x2="108.5" y2="141"/><polyline points="99.8,130.4 108.5,141.5 113.8,127.5"/></g>
</g>
<g id="protR" clip-path="url(#clipR)">
<g filter="url(#soft)"><path d="M265.0,120.0C265.6,102.4 267.9,119.5 269.2,118.8C270.6,118.0 271.8,114.8 273.8,115.0C275.7,115.2 280.4,118.7 282.5,120.0C284.6,121.3 285.5,122.8 287.5,123.8C289.5,124.7 293.6,126.0 296.0,126.0C298.4,126.0 301.6,125.0 303.8,123.8C305.9,122.5 308.2,117.9 310.0,117.5C311.8,117.1 314.4,119.1 316.0,121.0C317.6,122.9 319.3,129.6 321.0,130.0C322.7,130.4 325.4,124.7 327.5,123.8C329.6,122.8 332.0,123.0 335.0,123.8C338.0,124.5 343.6,127.8 347.5,128.8C351.4,129.7 358.4,129.3 361.0,130.0C363.6,130.7 364.1,132.5 365.0,133.6C365.9,134.7 365.9,136.6 367.0,137.5C368.1,138.4 370.3,139.5 372.0,139.5C373.7,139.5 376.6,137.9 378.5,137.5C380.4,137.1 383.0,136.1 385.0,136.5C387.0,136.9 390.2,139.5 392.0,140.4C393.8,141.3 395.6,142.5 396.7,142.3C397.8,142.2 398.0,140.8 399.6,139.4C401.2,138.0 406.7,134.6 407.3,132.7C407.9,130.8 405.2,128.8 403.5,127.0C401.8,125.2 398.3,122.9 395.8,121.0C393.3,119.1 388.6,116.3 387.0,114.4C385.4,112.5 384.6,110.6 385.0,108.6C385.4,106.6 388.1,104.2 390.0,101.0C391.9,97.8 395.2,90.8 397.5,87.5C399.8,84.2 402.4,80.5 405.0,78.8C407.6,77.0 412.4,75.7 415.0,76.0C417.6,76.3 420.6,80.8 422.5,81.0C424.4,81.2 425.2,77.8 427.5,77.5C429.8,77.2 434.1,76.5 437.5,78.8C440.9,81.0 446.2,90.2 450.0,92.5C453.8,94.8 459.9,93.8 462.5,93.8C465.1,93.8 465.6,91.9 467.5,92.5C469.4,93.1 472.4,97.1 475.0,97.5C477.6,97.9 482.8,96.7 485.0,95.0C487.2,93.3 487.4,87.3 490.0,86.0C492.6,84.7 499.9,83.9 502.5,86.0C505.1,88.1 506.4,96.4 507.5,100.0C508.6,103.6 508.3,108.3 510.0,110.0C511.7,111.7 516.5,110.7 518.8,111.0C521.0,111.3 524.1,93.8 525.0,112.0C525.9,130.2 527.2,214.7 525.0,232.5C522.8,250.3 513.8,231.4 510.0,231.0C506.2,230.6 503.0,230.8 500.0,230.0C497.0,229.2 493.4,226.4 490.0,226.0C486.6,225.6 481.2,227.5 477.5,227.5C473.8,227.5 469.1,226.4 465.0,226.0C460.9,225.6 453.9,224.8 450.0,225.0C446.1,225.2 441.3,226.2 438.8,227.5C436.2,228.8 434.6,231.5 433.0,234.0C431.4,236.5 430.9,241.8 428.0,244.4C425.1,247.0 418.1,250.3 414.0,251.3C409.9,252.3 403.5,252.3 400.4,251.3C397.3,250.3 397.2,245.9 393.5,244.4C389.8,242.9 381.7,241.0 376.0,241.0C370.3,241.0 361.1,244.7 355.4,244.4C349.7,244.1 341.9,240.8 338.0,239.0C334.1,237.2 331.3,234.0 329.4,232.3C327.4,230.6 327.9,228.2 325.0,227.5C322.1,226.8 313.4,227.9 310.0,227.5C306.6,227.1 305.9,225.4 302.5,225.0C299.1,224.6 290.5,224.4 287.5,225.0C284.5,225.6 284.4,227.6 282.5,228.8C280.6,229.9 277.0,231.6 275.0,232.5C273.0,233.4 270.8,234.5 269.2,235.0C267.8,235.5 265.6,253.2 265.0,236.0C264.4,218.8 264.4,137.6 265.0,120.0Z" fill="#b48483" filter="url(#mott)"/><g clip-path="url(#blobR)"><path d="M265.0,120.0C265.6,102.4 267.9,119.5 269.2,118.8C270.6,118.0 271.8,114.8 273.8,115.0C275.7,115.2 280.4,118.7 282.5,120.0C284.6,121.3 285.5,122.8 287.5,123.8C289.5,124.7 293.6,126.0 296.0,126.0C298.4,126.0 301.6,125.0 303.8,123.8C305.9,122.5 308.2,117.9 310.0,117.5C311.8,117.1 314.4,119.1 316.0,121.0C317.6,122.9 319.3,129.6 321.0,130.0C322.7,130.4 325.4,124.7 327.5,123.8C329.6,122.8 332.0,123.0 335.0,123.8C338.0,124.5 343.6,127.8 347.5,128.8C351.4,129.7 358.4,129.3 361.0,130.0C363.6,130.7 364.1,132.5 365.0,133.6C365.9,134.7 365.9,136.6 367.0,137.5C368.1,138.4 370.3,139.5 372.0,139.5C373.7,139.5 376.6,137.9 378.5,137.5C380.4,137.1 383.0,136.1 385.0,136.5C387.0,136.9 390.2,139.5 392.0,140.4C393.8,141.3 395.6,142.5 396.7,142.3C397.8,142.2 398.0,140.8 399.6,139.4C401.2,138.0 406.7,134.6 407.3,132.7C407.9,130.8 405.2,128.8 403.5,127.0C401.8,125.2 398.3,122.9 395.8,121.0C393.3,119.1 388.6,116.3 387.0,114.4C385.4,112.5 384.6,110.6 385.0,108.6C385.4,106.6 388.1,104.2 390.0,101.0C391.9,97.8 395.2,90.8 397.5,87.5C399.8,84.2 402.4,80.5 405.0,78.8C407.6,77.0 412.4,75.7 415.0,76.0C417.6,76.3 420.6,80.8 422.5,81.0C424.4,81.2 425.2,77.8 427.5,77.5C429.8,77.2 434.1,76.5 437.5,78.8C440.9,81.0 446.2,90.2 450.0,92.5C453.8,94.8 459.9,93.8 462.5,93.8C465.1,93.8 465.6,91.9 467.5,92.5C469.4,93.1 472.4,97.1 475.0,97.5C477.6,97.9 482.8,96.7 485.0,95.0C487.2,93.3 487.4,87.3 490.0,86.0C492.6,84.7 499.9,83.9 502.5,86.0C505.1,88.1 506.4,96.4 507.5,100.0C508.6,103.6 508.3,108.3 510.0,110.0C511.7,111.7 516.5,110.7 518.8,111.0C521.0,111.3 524.1,93.8 525.0,112.0C525.9,130.2 527.2,214.7 525.0,232.5C522.8,250.3 513.8,231.4 510.0,231.0C506.2,230.6 503.0,230.8 500.0,230.0C497.0,229.2 493.4,226.4 490.0,226.0C486.6,225.6 481.2,227.5 477.5,227.5C473.8,227.5 469.1,226.4 465.0,226.0C460.9,225.6 453.9,224.8 450.0,225.0C446.1,225.2 441.3,226.2 438.8,227.5C436.2,228.8 434.6,231.5 433.0,234.0C431.4,236.5 430.9,241.8 428.0,244.4C425.1,247.0 418.1,250.3 414.0,251.3C409.9,252.3 403.5,252.3 400.4,251.3C397.3,250.3 397.2,245.9 393.5,244.4C389.8,242.9 381.7,241.0 376.0,241.0C370.3,241.0 361.1,244.7 355.4,244.4C349.7,244.1 341.9,240.8 338.0,239.0C334.1,237.2 331.3,234.0 329.4,232.3C327.4,230.6 327.9,228.2 325.0,227.5C322.1,226.8 313.4,227.9 310.0,227.5C306.6,227.1 305.9,225.4 302.5,225.0C299.1,224.6 290.5,224.4 287.5,225.0C284.5,225.6 284.4,227.6 282.5,228.8C280.6,229.9 277.0,231.6 275.0,232.5C273.0,233.4 270.8,234.5 269.2,235.0C267.8,235.5 265.6,253.2 265.0,236.0C264.4,218.8 264.4,137.6 265.0,120.0Z" fill="none" stroke="#7d6464" stroke-width="5" opacity="0.75" filter="url(#rim)"/></g></g>
<g clip-path="url(#blobR)"><g fill="none" stroke="#98282c" stroke-width="14" stroke-linecap="round" opacity="0.3" filter="url(#shad)"><path d="M269.3,213.3L270.6,212.5L272.2,210.1L274.0,206.6L275.8,202.5L277.6,198.3L279.4,194.8L281.0,192.4L282.3,191.6"/><path d="M282.3,191.6L283.3,192.4L284.6,194.6L285.9,197.8L287.4,201.7L288.8,205.6L290.1,208.8L291.4,211.0L292.4,211.8"/><path d="M292.4,211.8L294.0,211.1L296.0,209.0L298.1,206.0L300.4,202.4L302.6,198.8L304.7,195.8L306.7,193.7L308.3,193.0"/><path d="M308.3,193.0L309.3,193.6L310.6,195.3L311.9,197.9L313.4,201.0L314.8,204.1L316.1,206.7L317.4,208.4L318.4,209.0"/><path d="M318.4,209.0C320.5,210.4 326.3,214.7 331.3,217.6C336.3,220.5 342.4,223.8 348.6,226.2C354.9,228.6 362.1,230.8 368.8,232.0C375.5,233.2 382.8,233.7 389.0,233.5C395.2,233.3 402.9,232.0 406.3,230.6C409.7,229.2 408.7,225.8 409.2,224.8"/><path d="M388.0,234.0C390.3,231.8 397.7,223.5 402.0,221.0C406.3,218.5 412.3,217.3 414.0,219.0C415.7,220.7 414.3,228.0 412.0,231.0C409.7,234.0 402.0,236.0 400.0,237.0"/><path d="M266.0,170.0L267.3,169.7L268.9,168.8L270.6,167.4L272.4,165.8L274.2,164.1L275.9,162.7L277.5,161.8L278.8,161.5"/><path d="M278.8,161.5L280.0,162.2L281.4,164.4L283.0,167.5L284.6,171.2L286.2,175.0L287.8,178.1L289.2,180.3L290.4,181.0"/><path d="M290.4,181.0L292.1,180.4L294.0,178.8L296.2,176.4L298.4,173.5L300.7,170.6L302.9,168.2L304.8,166.6L306.5,166.0"/><path d="M306.5,166.0L307.3,166.9L308.3,169.4L309.4,173.1L310.6,177.5L311.7,181.9L312.8,185.6L313.8,188.1L314.6,189.0"/><path d="M314.6,189.0L316.2,188.7L318.1,187.7L320.1,186.2L322.3,184.5L324.5,182.8L326.5,181.3L328.4,180.3L330.0,180.0"/><path d="M330.0,180.0L330.9,180.8L332.0,183.1L333.2,186.5L334.5,190.5L335.8,194.5L337.0,197.9L338.1,200.2L339.0,201.0"/><path d="M339.0,201.0L340.6,200.6L342.5,199.6L344.6,198.1L346.8,196.2L348.9,194.4L351.0,192.9L352.9,191.9L354.5,191.5"/><path d="M354.5,191.5L355.4,192.3L356.4,194.6L357.5,198.1L358.8,202.2L360.0,206.4L361.1,209.9L362.1,212.2L363.0,213.0"/><path d="M363.0,213.0L364.5,212.8L366.2,212.2L368.2,211.3L370.2,210.2L372.3,209.2L374.3,208.3L376.0,207.7L377.5,207.5"/><path d="M377.5,207.5L378.4,208.2L379.4,210.1L380.5,212.9L381.8,216.2L383.0,219.6L384.1,222.4L385.1,224.3L386.0,225.0"/><path d="M266.0,142.0L267.1,141.7L268.4,141.0L269.8,139.8L271.2,138.5L272.7,137.2L274.1,136.0L275.4,135.3L276.5,135.0"/><path d="M276.5,135.0L277.8,136.2L279.3,139.7L281.0,144.9L282.8,151.0L284.5,157.1L286.2,162.3L287.7,165.8L289.0,167.0"/><path d="M289.0,167.0L290.5,165.9L292.4,162.8L294.4,158.2L296.5,152.8L298.6,147.3L300.6,142.7L302.5,139.6L304.0,138.5"/><path d="M304.0,138.5L305.0,139.5L306.2,142.4L307.6,146.7L309.0,151.8L310.4,156.8L311.8,161.1L313.0,164.0L314.0,165.0"/><path d="M314.0,165.0L315.9,164.2L318.0,162.1L320.5,158.8L323.0,155.0L325.5,151.2L328.0,147.9L330.1,145.8L332.0,145.0"/><path d="M332.0,145.0L332.8,145.8L333.8,148.1L334.9,151.5L336.0,155.5L337.1,159.5L338.2,162.9L339.2,165.2L340.0,166.0"/><path d="M427.5,170.0L428.8,170.9L430.3,173.3L432.0,176.9L433.8,181.2L435.5,185.6L437.2,189.2L438.7,191.6L440.0,192.5"/><path d="M440.0,192.5L441.3,191.9L442.8,190.3L444.5,187.9L446.2,185.0L448.0,182.1L449.7,179.7L451.2,178.1L452.5,177.5"/><path d="M452.5,177.5L453.5,178.5L454.7,181.2L456.1,185.2L457.5,190.0L458.9,194.8L460.3,198.8L461.5,201.5L462.5,202.5"/><path d="M462.5,202.5L464.6,201.8L467.0,199.9L469.7,197.1L472.5,193.8L475.3,190.4L478.0,187.6L480.4,185.7L482.5,185.0"/><path d="M482.5,185.0L483.5,185.9L484.7,188.3L486.1,191.9L487.5,196.2L488.9,200.6L490.3,204.2L491.5,206.6L492.5,207.5"/><path d="M492.5,207.5L494.0,206.8L495.9,204.9L497.9,202.1L500.0,198.8L502.1,195.4L504.1,192.6L506.0,190.7L507.5,190.0"/><path d="M507.5,190.0L508.5,191.0L509.7,193.7L511.1,197.7L512.5,202.5L513.9,207.3L515.3,211.3L516.5,214.0L517.5,215.0"/><path d="M517.5,215.0L518.4,214.4L519.4,212.8L520.5,210.4L521.8,207.5L523.0,204.6L524.1,202.2L525.1,200.6L526.0,200.0"/><path d="M411.8,98.3L411.2,100.8L410.8,103.4L410.7,106.1L410.9,108.9L411.4,111.7L412.1,114.4L413.1,117.0L414.3,119.3L415.7,121.5L417.2,123.3L418.9,124.8L420.6,125.9L422.4,126.5L424.2,126.8L426.0,126.7L427.6,126.1"/><path d="M427.6,126.1L430.0,124.4L431.9,121.7L433.3,118.3L434.1,114.4L434.2,110.1L433.7,105.7L432.5,101.5L430.7,97.7L428.5,94.5L425.9,92.1L423.1,90.6L420.3,90.2L417.6,90.8L415.2,92.4L413.2,95.0L411.8,98.3"/><path d="M448.7,124.6L448.5,126.8L448.7,129.1L449.2,131.4L450.0,133.5L451.2,135.4L452.7,137.1L454.4,138.6L456.3,139.7L458.4,140.5L460.5,140.9L462.7,141.0L464.9,140.7L467.0,140.0L469.0,139.0L470.8,137.6L472.3,136.0"/><path d="M472.3,136.0L474.0,133.3L475.1,130.3L475.5,127.2L475.2,124.0L474.2,120.9L472.5,118.2L470.3,116.0L467.7,114.3L464.8,113.3L461.7,113.0L458.6,113.4L455.8,114.6L453.2,116.4L451.1,118.7L449.6,121.5L448.7,124.6"/><path d="M485.4,147.0C486.2,145.1 487.7,138.1 490.0,135.4C492.3,132.7 497.7,131.6 499.2,130.8"/><path d="M478.5,126.0C480.4,125.5 486.2,122.5 490.0,122.7C493.8,122.9 498.0,125.2 501.5,127.3C505.0,129.4 508.5,131.8 510.8,135.4C513.1,139.0 515.0,145.2 515.4,149.0C515.8,152.8 513.4,156.9 513.0,158.5"/><path d="M449.6,149.2C451.0,147.7 454.4,139.6 457.7,140.0C461.0,140.4 467.6,147.3 469.2,151.5C470.8,155.7 465.9,164.2 467.0,165.4C468.1,166.6 472.9,158.9 476.0,158.5C479.1,158.1 483.1,160.2 485.4,163.0C487.7,165.8 489.2,173.0 490.0,175.0"/><path d="M417.0,126.0C419.2,127.7 425.3,135.2 430.0,136.0C434.7,136.8 442.5,131.8 445.0,131.0"/><path d="M340.0,164.5C341.6,162.8 346.4,156.5 349.6,154.3C352.8,152.1 355.8,151.6 359.0,151.5C362.2,151.4 366.2,152.9 369.0,154.0C371.8,155.1 374.5,157.3 375.6,158.0"/><path d="M375.8,159.0C376.1,161.8 377.1,173.2 377.3,176.0"/><path d="M379.0,164.5C380.2,163.4 383.2,158.6 386.0,158.2C388.8,157.8 393.2,159.9 395.8,162.0C398.4,164.1 400.6,169.5 401.5,171.0"/><path d="M400.5,173.0C400.9,174.2 402.6,178.8 403.0,180.0"/><path d="M406.0,178.0C406.8,176.8 409.2,172.7 411.0,171.0C412.8,169.3 414.4,167.6 417.0,167.6C419.6,167.6 424.9,170.4 426.5,171.0"/></g></g>
<g fill="none" stroke-linecap="round" stroke-linejoin="round" filter="url(#soft2)">
<path d="M269.3,213.3L270.6,212.5L272.2,210.1L274.0,206.6L275.8,202.5L277.6,198.3L279.4,194.8L281.0,192.4L282.3,191.6" stroke="#56060a" stroke-width="7.3" />
<path d="M269.3,213.3L270.6,212.5L272.2,210.1L274.0,206.6L275.8,202.5L277.6,198.3L279.4,194.8L281.0,192.4L282.3,191.6" stroke="#84101a" stroke-width="5.1" transform="translate(-0.5,-0.4)"/>
<path d="M292.4,211.8L294.0,211.1L296.0,209.0L298.1,206.0L300.4,202.4L302.6,198.8L304.7,195.8L306.7,193.7L308.3,193.0" stroke="#56060a" stroke-width="7.3" />
<path d="M292.4,211.8L294.0,211.1L296.0,209.0L298.1,206.0L300.4,202.4L302.6,198.8L304.7,195.8L306.7,193.7L308.3,193.0" stroke="#84101a" stroke-width="5.1" transform="translate(-0.5,-0.4)"/>
<path d="M282.3,191.6L283.3,192.4L284.6,194.6L285.9,197.8L287.4,201.7L288.8,205.6L290.1,208.8L291.4,211.0L292.4,211.8" stroke="#6e080b" stroke-width="9.5" />
<path d="M282.3,191.6L283.3,192.4L284.6,194.6L285.9,197.8L287.4,201.7L288.8,205.6L290.1,208.8L291.4,211.0L292.4,211.8" stroke="#b4161a" stroke-width="6.5" transform="translate(-0.6,-0.5)"/>
<path d="M282.3,191.6L283.3,192.4L284.6,194.6L285.9,197.8L287.4,201.7L288.8,205.6L290.1,208.8L291.4,211.0L292.4,211.8" stroke="#cf3c3e" stroke-width="2" opacity="0.75" transform="translate(-1.4,-1.1)"/>
<path d="M308.3,193.0L309.3,193.6L310.6,195.3L311.9,197.9L313.4,201.0L314.8,204.1L316.1,206.7L317.4,208.4L318.4,209.0" stroke="#6e080b" stroke-width="9.5" />
<path d="M308.3,193.0L309.3,193.6L310.6,195.3L311.9,197.9L313.4,201.0L314.8,204.1L316.1,206.7L317.4,208.4L318.4,209.0" stroke="#b4161a" stroke-width="6.5" transform="translate(-0.6,-0.5)"/>
<path d="M308.3,193.0L309.3,193.6L310.6,195.3L311.9,197.9L313.4,201.0L314.8,204.1L316.1,206.7L317.4,208.4L318.4,209.0" stroke="#cf3c3e" stroke-width="2" opacity="0.75" transform="translate(-1.4,-1.1)"/>
<path d="M318.4,209.0C320.5,210.4 326.3,214.7 331.3,217.6C336.3,220.5 342.4,223.8 348.6,226.2C354.9,228.6 362.1,230.8 368.8,232.0C375.5,233.2 382.8,233.7 389.0,233.5C395.2,233.3 402.9,232.0 406.3,230.6C409.7,229.2 408.7,225.8 409.2,224.8" stroke="#6e080b" stroke-width="8.3"/>
<path d="M318.4,209.0C320.5,210.4 326.3,214.7 331.3,217.6C336.3,220.5 342.4,223.8 348.6,226.2C354.9,228.6 362.1,230.8 368.8,232.0C375.5,233.2 382.8,233.7 389.0,233.5C395.2,233.3 402.9,232.0 406.3,230.6C409.7,229.2 408.7,225.8 409.2,224.8" stroke="#b4161a" stroke-width="5.300000000000001" transform="translate(-0.6,-0.5)"/>
<path d="M388.0,234.0C390.3,231.8 397.7,223.5 402.0,221.0C406.3,218.5 412.3,217.3 414.0,219.0C415.7,220.7 414.3,228.0 412.0,231.0C409.7,234.0 402.0,236.0 400.0,237.0" stroke="#5e070a" stroke-width="6.8"/>
<path d="M388.0,234.0C390.3,231.8 397.7,223.5 402.0,221.0C406.3,218.5 412.3,217.3 414.0,219.0C415.7,220.7 414.3,228.0 412.0,231.0C409.7,234.0 402.0,236.0 400.0,237.0" stroke="#8e1218" stroke-width="3.8" transform="translate(-0.6,-0.5)"/>
<path d="M266.0,170.0L267.3,169.7L268.9,168.8L270.6,167.4L272.4,165.8L274.2,164.1L275.9,162.7L277.5,161.8L278.8,161.5" stroke="#56060a" stroke-width="7.3" />
<path d="M266.0,170.0L267.3,169.7L268.9,168.8L270.6,167.4L272.4,165.8L274.2,164.1L275.9,162.7L277.5,161.8L278.8,161.5" stroke="#84101a" stroke-width="5.1" transform="translate(-0.5,-0.4)"/>
<path d="M290.4,181.0L292.1,180.4L294.0,178.8L296.2,176.4L298.4,173.5L300.7,170.6L302.9,168.2L304.8,166.6L306.5,166.0" stroke="#56060a" stroke-width="7.3" />
<path d="M290.4,181.0L292.1,180.4L294.0,178.8L296.2,176.4L298.4,173.5L300.7,170.6L302.9,168.2L304.8,166.6L306.5,166.0" stroke="#84101a" stroke-width="5.1" transform="translate(-0.5,-0.4)"/>
<path d="M314.6,189.0L316.2,188.7L318.1,187.7L320.1,186.2L322.3,184.5L324.5,182.8L326.5,181.3L328.4,180.3L330.0,180.0" stroke="#56060a" stroke-width="7.3" />
<path d="M314.6,189.0L316.2,188.7L318.1,187.7L320.1,186.2L322.3,184.5L324.5,182.8L326.5,181.3L328.4,180.3L330.0,180.0" stroke="#84101a" stroke-width="5.1" transform="translate(-0.5,-0.4)"/>
<path d="M339.0,201.0L340.6,200.6L342.5,199.6L344.6,198.1L346.8,196.2L348.9,194.4L351.0,192.9L352.9,191.9L354.5,191.5" stroke="#56060a" stroke-width="7.3" />
<path d="M339.0,201.0L340.6,200.6L342.5,199.6L344.6,198.1L346.8,196.2L348.9,194.4L351.0,192.9L352.9,191.9L354.5,191.5" stroke="#84101a" stroke-width="5.1" transform="translate(-0.5,-0.4)"/>
<path d="M363.0,213.0L364.5,212.8L366.2,212.2L368.2,211.3L370.2,210.2L372.3,209.2L374.3,208.3L376.0,207.7L377.5,207.5" stroke="#56060a" stroke-width="7.3" />
<path d="M363.0,213.0L364.5,212.8L366.2,212.2L368.2,211.3L370.2,210.2L372.3,209.2L374.3,208.3L376.0,207.7L377.5,207.5" stroke="#84101a" stroke-width="5.1" transform="translate(-0.5,-0.4)"/>
<path d="M278.8,161.5L280.0,162.2L281.4,164.4L283.0,167.5L284.6,171.2L286.2,175.0L287.8,178.1L289.2,180.3L290.4,181.0" stroke="#6e080b" stroke-width="9.5" />
<path d="M278.8,161.5L280.0,162.2L281.4,164.4L283.0,167.5L284.6,171.2L286.2,175.0L287.8,178.1L289.2,180.3L290.4,181.0" stroke="#b4161a" stroke-width="6.5" transform="translate(-0.6,-0.5)"/>
<path d="M278.8,161.5L280.0,162.2L281.4,164.4L283.0,167.5L284.6,171.2L286.2,175.0L287.8,178.1L289.2,180.3L290.4,181.0" stroke="#cf3c3e" stroke-width="2" opacity="0.75" transform="translate(-1.4,-1.1)"/>
<path d="M306.5,166.0L307.3,166.9L308.3,169.4L309.4,173.1L310.6,177.5L311.7,181.9L312.8,185.6L313.8,188.1L314.6,189.0" stroke="#6e080b" stroke-width="9.5" />
<path d="M306.5,166.0L307.3,166.9L308.3,169.4L309.4,173.1L310.6,177.5L311.7,181.9L312.8,185.6L313.8,188.1L314.6,189.0" stroke="#b4161a" stroke-width="6.5" transform="translate(-0.6,-0.5)"/>
<path d="M306.5,166.0L307.3,166.9L308.3,169.4L309.4,173.1L310.6,177.5L311.7,181.9L312.8,185.6L313.8,188.1L314.6,189.0" stroke="#cf3c3e" stroke-width="2" opacity="0.75" transform="translate(-1.4,-1.1)"/>
<path d="M330.0,180.0L330.9,180.8L332.0,183.1L333.2,186.5L334.5,190.5L335.8,194.5L337.0,197.9L338.1,200.2L339.0,201.0" stroke="#6e080b" stroke-width="9.5" />
<path d="M330.0,180.0L330.9,180.8L332.0,183.1L333.2,186.5L334.5,190.5L335.8,194.5L337.0,197.9L338.1,200.2L339.0,201.0" stroke="#b4161a" stroke-width="6.5" transform="translate(-0.6,-0.5)"/>
<path d="M330.0,180.0L330.9,180.8L332.0,183.1L333.2,186.5L334.5,190.5L335.8,194.5L337.0,197.9L338.1,200.2L339.0,201.0" stroke="#cf3c3e" stroke-width="2" opacity="0.75" transform="translate(-1.4,-1.1)"/>
<path d="M354.5,191.5L355.4,192.3L356.4,194.6L357.5,198.1L358.8,202.2L360.0,206.4L361.1,209.9L362.1,212.2L363.0,213.0" stroke="#6e080b" stroke-width="9.5" />
<path d="M354.5,191.5L355.4,192.3L356.4,194.6L357.5,198.1L358.8,202.2L360.0,206.4L361.1,209.9L362.1,212.2L363.0,213.0" stroke="#b4161a" stroke-width="6.5" transform="translate(-0.6,-0.5)"/>
<path d="M354.5,191.5L355.4,192.3L356.4,194.6L357.5,198.1L358.8,202.2L360.0,206.4L361.1,209.9L362.1,212.2L363.0,213.0" stroke="#cf3c3e" stroke-width="2" opacity="0.75" transform="translate(-1.4,-1.1)"/>
<path d="M377.5,207.5L378.4,208.2L379.4,210.1L380.5,212.9L381.8,216.2L383.0,219.6L384.1,222.4L385.1,224.3L386.0,225.0" stroke="#6e080b" stroke-width="9.5" />
<path d="M377.5,207.5L378.4,208.2L379.4,210.1L380.5,212.9L381.8,216.2L383.0,219.6L384.1,222.4L385.1,224.3L386.0,225.0" stroke="#b4161a" stroke-width="6.5" transform="translate(-0.6,-0.5)"/>
<path d="M377.5,207.5L378.4,208.2L379.4,210.1L380.5,212.9L381.8,216.2L383.0,219.6L384.1,222.4L385.1,224.3L386.0,225.0" stroke="#cf3c3e" stroke-width="2" opacity="0.75" transform="translate(-1.4,-1.1)"/>
<path d="M266.0,142.0L267.1,141.7L268.4,141.0L269.8,139.8L271.2,138.5L272.7,137.2L274.1,136.0L275.4,135.3L276.5,135.0" stroke="#56060a" stroke-width="7.8" />
<path d="M266.0,142.0L267.1,141.7L268.4,141.0L269.8,139.8L271.2,138.5L272.7,137.2L274.1,136.0L275.4,135.3L276.5,135.0" stroke="#84101a" stroke-width="5.6" transform="translate(-0.5,-0.4)"/>
<path d="M289.0,167.0L290.5,165.9L292.4,162.8L294.4,158.2L296.5,152.8L298.6,147.3L300.6,142.7L302.5,139.6L304.0,138.5" stroke="#56060a" stroke-width="7.8" />
<path d="M289.0,167.0L290.5,165.9L292.4,162.8L294.4,158.2L296.5,152.8L298.6,147.3L300.6,142.7L302.5,139.6L304.0,138.5" stroke="#84101a" stroke-width="5.6" transform="translate(-0.5,-0.4)"/>
<path d="M314.0,165.0L315.9,164.2L318.0,162.1L320.5,158.8L323.0,155.0L325.5,151.2L328.0,147.9L330.1,145.8L332.0,145.0" stroke="#56060a" stroke-width="7.8" />
<path d="M314.0,165.0L315.9,164.2L318.0,162.1L320.5,158.8L323.0,155.0L325.5,151.2L328.0,147.9L330.1,145.8L332.0,145.0" stroke="#84101a" stroke-width="5.6" transform="translate(-0.5,-0.4)"/>
<path d="M276.5,135.0L277.8,136.2L279.3,139.7L281.0,144.9L282.8,151.0L284.5,157.1L286.2,162.3L287.7,165.8L289.0,167.0" stroke="#6e080b" stroke-width="10" />
<path d="M276.5,135.0L277.8,136.2L279.3,139.7L281.0,144.9L282.8,151.0L284.5,157.1L286.2,162.3L287.7,165.8L289.0,167.0" stroke="#b4161a" stroke-width="7" transform="translate(-0.6,-0.5)"/>
<path d="M276.5,135.0L277.8,136.2L279.3,139.7L281.0,144.9L282.8,151.0L284.5,157.1L286.2,162.3L287.7,165.8L289.0,167.0" stroke="#cf3c3e" stroke-width="2" opacity="0.75" transform="translate(-1.4,-1.1)"/>
<path d="M304.0,138.5L305.0,139.5L306.2,142.4L307.6,146.7L309.0,151.8L310.4,156.8L311.8,161.1L313.0,164.0L314.0,165.0" stroke="#6e080b" stroke-width="10" />
<path d="M304.0,138.5L305.0,139.5L306.2,142.4L307.6,146.7L309.0,151.8L310.4,156.8L311.8,161.1L313.0,164.0L314.0,165.0" stroke="#b4161a" stroke-width="7" transform="translate(-0.6,-0.5)"/>
<path d="M304.0,138.5L305.0,139.5L306.2,142.4L307.6,146.7L309.0,151.8L310.4,156.8L311.8,161.1L313.0,164.0L314.0,165.0" stroke="#cf3c3e" stroke-width="2" opacity="0.75" transform="translate(-1.4,-1.1)"/>
<path d="M332.0,145.0L332.8,145.8L333.8,148.1L334.9,151.5L336.0,155.5L337.1,159.5L338.2,162.9L339.2,165.2L340.0,166.0" stroke="#6e080b" stroke-width="10" />
<path d="M332.0,145.0L332.8,145.8L333.8,148.1L334.9,151.5L336.0,155.5L337.1,159.5L338.2,162.9L339.2,165.2L340.0,166.0" stroke="#b4161a" stroke-width="7" transform="translate(-0.6,-0.5)"/>
<path d="M332.0,145.0L332.8,145.8L333.8,148.1L334.9,151.5L336.0,155.5L337.1,159.5L338.2,162.9L339.2,165.2L340.0,166.0" stroke="#cf3c3e" stroke-width="2" opacity="0.75" transform="translate(-1.4,-1.1)"/>
<path d="M440.0,192.5L441.3,191.9L442.8,190.3L444.5,187.9L446.2,185.0L448.0,182.1L449.7,179.7L451.2,178.1L452.5,177.5" stroke="#56060a" stroke-width="7.8" />
<path d="M440.0,192.5L441.3,191.9L442.8,190.3L444.5,187.9L446.2,185.0L448.0,182.1L449.7,179.7L451.2,178.1L452.5,177.5" stroke="#84101a" stroke-width="5.6" transform="translate(-0.5,-0.4)"/>
<path d="M462.5,202.5L464.6,201.8L467.0,199.9L469.7,197.1L472.5,193.8L475.3,190.4L478.0,187.6L480.4,185.7L482.5,185.0" stroke="#56060a" stroke-width="7.8" />
<path d="M462.5,202.5L464.6,201.8L467.0,199.9L469.7,197.1L472.5,193.8L475.3,190.4L478.0,187.6L480.4,185.7L482.5,185.0" stroke="#84101a" stroke-width="5.6" transform="translate(-0.5,-0.4)"/>
<path d="M492.5,207.5L494.0,206.8L495.9,204.9L497.9,202.1L500.0,198.8L502.1,195.4L504.1,192.6L506.0,190.7L507.5,190.0" stroke="#56060a" stroke-width="7.8" />
<path d="M492.5,207.5L494.0,206.8L495.9,204.9L497.9,202.1L500.0,198.8L502.1,195.4L504.1,192.6L506.0,190.7L507.5,190.0" stroke="#84101a" stroke-width="5.6" transform="translate(-0.5,-0.4)"/>
<path d="M517.5,215.0L518.4,214.4L519.4,212.8L520.5,210.4L521.8,207.5L523.0,204.6L524.1,202.2L525.1,200.6L526.0,200.0" stroke="#56060a" stroke-width="7.8" />
<path d="M517.5,215.0L518.4,214.4L519.4,212.8L520.5,210.4L521.8,207.5L523.0,204.6L524.1,202.2L525.1,200.6L526.0,200.0" stroke="#84101a" stroke-width="5.6" transform="translate(-0.5,-0.4)"/>
<path d="M427.5,170.0L428.8,170.9L430.3,173.3L432.0,176.9L433.8,181.2L435.5,185.6L437.2,189.2L438.7,191.6L440.0,192.5" stroke="#6e080b" stroke-width="10" />
<path d="M427.5,170.0L428.8,170.9L430.3,173.3L432.0,176.9L433.8,181.2L435.5,185.6L437.2,189.2L438.7,191.6L440.0,192.5" stroke="#b4161a" stroke-width="7" transform="translate(-0.6,-0.5)"/>
<path d="M427.5,170.0L428.8,170.9L430.3,173.3L432.0,176.9L433.8,181.2L435.5,185.6L437.2,189.2L438.7,191.6L440.0,192.5" stroke="#cf3c3e" stroke-width="2" opacity="0.75" transform="translate(-1.4,-1.1)"/>
<path d="M452.5,177.5L453.5,178.5L454.7,181.2L456.1,185.2L457.5,190.0L458.9,194.8L460.3,198.8L461.5,201.5L462.5,202.5" stroke="#6e080b" stroke-width="10" />
<path d="M452.5,177.5L453.5,178.5L454.7,181.2L456.1,185.2L457.5,190.0L458.9,194.8L460.3,198.8L461.5,201.5L462.5,202.5" stroke="#b4161a" stroke-width="7" transform="translate(-0.6,-0.5)"/>
<path d="M452.5,177.5L453.5,178.5L454.7,181.2L456.1,185.2L457.5,190.0L458.9,194.8L460.3,198.8L461.5,201.5L462.5,202.5" stroke="#cf3c3e" stroke-width="2" opacity="0.75" transform="translate(-1.4,-1.1)"/>
<path d="M482.5,185.0L483.5,185.9L484.7,188.3L486.1,191.9L487.5,196.2L488.9,200.6L490.3,204.2L491.5,206.6L492.5,207.5" stroke="#6e080b" stroke-width="10" />
<path d="M482.5,185.0L483.5,185.9L484.7,188.3L486.1,191.9L487.5,196.2L488.9,200.6L490.3,204.2L491.5,206.6L492.5,207.5" stroke="#b4161a" stroke-width="7" transform="translate(-0.6,-0.5)"/>
<path d="M482.5,185.0L483.5,185.9L484.7,188.3L486.1,191.9L487.5,196.2L488.9,200.6L490.3,204.2L491.5,206.6L492.5,207.5" stroke="#cf3c3e" stroke-width="2" opacity="0.75" transform="translate(-1.4,-1.1)"/>
<path d="M507.5,190.0L508.5,191.0L509.7,193.7L511.1,197.7L512.5,202.5L513.9,207.3L515.3,211.3L516.5,214.0L517.5,215.0" stroke="#6e080b" stroke-width="10" />
<path d="M507.5,190.0L508.5,191.0L509.7,193.7L511.1,197.7L512.5,202.5L513.9,207.3L515.3,211.3L516.5,214.0L517.5,215.0" stroke="#b4161a" stroke-width="7" transform="translate(-0.6,-0.5)"/>
<path d="M507.5,190.0L508.5,191.0L509.7,193.7L511.1,197.7L512.5,202.5L513.9,207.3L515.3,211.3L516.5,214.0L517.5,215.0" stroke="#cf3c3e" stroke-width="2" opacity="0.75" transform="translate(-1.4,-1.1)"/>
<path d="M411.8,98.3L411.2,100.8L410.8,103.4L410.7,106.1L410.9,108.9L411.4,111.7L412.1,114.4L413.1,117.0L414.3,119.3L415.7,121.5L417.2,123.3L418.9,124.8L420.6,125.9L422.4,126.5L424.2,126.8L426.0,126.7L427.6,126.1" stroke="#56060a" stroke-width="7.5" />
<path d="M411.8,98.3L411.2,100.8L410.8,103.4L410.7,106.1L410.9,108.9L411.4,111.7L412.1,114.4L413.1,117.0L414.3,119.3L415.7,121.5L417.2,123.3L418.9,124.8L420.6,125.9L422.4,126.5L424.2,126.8L426.0,126.7L427.6,126.1" stroke="#84101a" stroke-width="5.3" transform="translate(-0.5,-0.4)"/>
<path d="M427.6,126.1L430.0,124.4L431.9,121.7L433.3,118.3L434.1,114.4L434.2,110.1L433.7,105.7L432.5,101.5L430.7,97.7L428.5,94.5L425.9,92.1L423.1,90.6L420.3,90.2L417.6,90.8L415.2,92.4L413.2,95.0L411.8,98.3" stroke="#6e080b" stroke-width="9.5" />
<path d="M427.6,126.1L430.0,124.4L431.9,121.7L433.3,118.3L434.1,114.4L434.2,110.1L433.7,105.7L432.5,101.5L430.7,97.7L428.5,94.5L425.9,92.1L423.1,90.6L420.3,90.2L417.6,90.8L415.2,92.4L413.2,95.0L411.8,98.3" stroke="#b4161a" stroke-width="6.5" transform="translate(-0.6,-0.5)"/>
<path d="M427.6,126.1L430.0,124.4L431.9,121.7L433.3,118.3L434.1,114.4L434.2,110.1L433.7,105.7L432.5,101.5L430.7,97.7L428.5,94.5L425.9,92.1L423.1,90.6L420.3,90.2L417.6,90.8L415.2,92.4L413.2,95.0L411.8,98.3" stroke="#cf3c3e" stroke-width="2" opacity="0.75" transform="translate(-1.4,-1.1)"/>
<path d="M448.7,124.6L448.5,126.8L448.7,129.1L449.2,131.4L450.0,133.5L451.2,135.4L452.7,137.1L454.4,138.6L456.3,139.7L458.4,140.5L460.5,140.9L462.7,141.0L464.9,140.7L467.0,140.0L469.0,139.0L470.8,137.6L472.3,136.0" stroke="#56060a" stroke-width="7.5" />
<path d="M448.7,124.6L448.5,126.8L448.7,129.1L449.2,131.4L450.0,133.5L451.2,135.4L452.7,137.1L454.4,138.6L456.3,139.7L458.4,140.5L460.5,140.9L462.7,141.0L464.9,140.7L467.0,140.0L469.0,139.0L470.8,137.6L472.3,136.0" stroke="#84101a" stroke-width="5.3" transform="translate(-0.5,-0.4)"/>
<path d="M472.3,136.0L474.0,133.3L475.1,130.3L475.5,127.2L475.2,124.0L474.2,120.9L472.5,118.2L470.3,116.0L467.7,114.3L464.8,113.3L461.7,113.0L458.6,113.4L455.8,114.6L453.2,116.4L451.1,118.7L449.6,121.5L448.7,124.6" stroke="#6e080b" stroke-width="9.5" />
<path d="M472.3,136.0L474.0,133.3L475.1,130.3L475.5,127.2L475.2,124.0L474.2,120.9L472.5,118.2L470.3,116.0L467.7,114.3L464.8,113.3L461.7,113.0L458.6,113.4L455.8,114.6L453.2,116.4L451.1,118.7L449.6,121.5L448.7,124.6" stroke="#b4161a" stroke-width="6.5" transform="translate(-0.6,-0.5)"/>
<path d="M472.3,136.0L474.0,133.3L475.1,130.3L475.5,127.2L475.2,124.0L474.2,120.9L472.5,118.2L470.3,116.0L467.7,114.3L464.8,113.3L461.7,113.0L458.6,113.4L455.8,114.6L453.2,116.4L451.1,118.7L449.6,121.5L448.7,124.6" stroke="#cf3c3e" stroke-width="2" opacity="0.75" transform="translate(-1.4,-1.1)"/>
<path d="M485.4,147.0C486.2,145.1 487.7,138.1 490.0,135.4C492.3,132.7 497.7,131.6 499.2,130.8" stroke="#5e070a" stroke-width="7.3"/>
<path d="M485.4,147.0C486.2,145.1 487.7,138.1 490.0,135.4C492.3,132.7 497.7,131.6 499.2,130.8" stroke="#8e1218" stroke-width="4.3" transform="translate(-0.6,-0.5)"/>
<path d="M478.5,126.0C480.4,125.5 486.2,122.5 490.0,122.7C493.8,122.9 498.0,125.2 501.5,127.3C505.0,129.4 508.5,131.8 510.8,135.4C513.1,139.0 515.0,145.2 515.4,149.0C515.8,152.8 513.4,156.9 513.0,158.5" stroke="#6e080b" stroke-width="9.3"/>
<path d="M478.5,126.0C480.4,125.5 486.2,122.5 490.0,122.7C493.8,122.9 498.0,125.2 501.5,127.3C505.0,129.4 508.5,131.8 510.8,135.4C513.1,139.0 515.0,145.2 515.4,149.0C515.8,152.8 513.4,156.9 513.0,158.5" stroke="#b4161a" stroke-width="6.300000000000001" transform="translate(-0.6,-0.5)"/>
<path d="M449.6,149.2C451.0,147.7 454.4,139.6 457.7,140.0C461.0,140.4 467.6,147.3 469.2,151.5C470.8,155.7 465.9,164.2 467.0,165.4C468.1,166.6 472.9,158.9 476.0,158.5C479.1,158.1 483.1,160.2 485.4,163.0C487.7,165.8 489.2,173.0 490.0,175.0" stroke="#6e080b" stroke-width="8.8"/>
<path d="M449.6,149.2C451.0,147.7 454.4,139.6 457.7,140.0C461.0,140.4 467.6,147.3 469.2,151.5C470.8,155.7 465.9,164.2 467.0,165.4C468.1,166.6 472.9,158.9 476.0,158.5C479.1,158.1 483.1,160.2 485.4,163.0C487.7,165.8 489.2,173.0 490.0,175.0" stroke="#b4161a" stroke-width="5.800000000000001" transform="translate(-0.6,-0.5)"/>
<path d="M417.0,126.0C419.2,127.7 425.3,135.2 430.0,136.0C434.7,136.8 442.5,131.8 445.0,131.0" stroke="#6e080b" stroke-width="8.3"/>
<path d="M417.0,126.0C419.2,127.7 425.3,135.2 430.0,136.0C434.7,136.8 442.5,131.8 445.0,131.0" stroke="#b4161a" stroke-width="5.300000000000001" transform="translate(-0.6,-0.5)"/>
<path d="M340.0,164.5C341.6,162.8 346.4,156.5 349.6,154.3C352.8,152.1 355.8,151.6 359.0,151.5C362.2,151.4 366.2,152.9 369.0,154.0C371.8,155.1 374.5,157.3 375.6,158.0" stroke="#4a1280" stroke-width="8.3"/>
<path d="M340.0,164.5C341.6,162.8 346.4,156.5 349.6,154.3C352.8,152.1 355.8,151.6 359.0,151.5C362.2,151.4 366.2,152.9 369.0,154.0C371.8,155.1 374.5,157.3 375.6,158.0" stroke="#7422b0" stroke-width="5.300000000000001" transform="translate(-0.6,-0.5)"/>
<path d="M375.8,159.0C376.1,161.8 377.1,173.2 377.3,176.0" stroke="#6a7a18" stroke-width="7.8"/>
<path d="M375.8,159.0C376.1,161.8 377.1,173.2 377.3,176.0" stroke="#9aa828" stroke-width="4.8" transform="translate(-0.6,-0.5)"/>
<path d="M379.0,164.5C380.2,163.4 383.2,158.6 386.0,158.2C388.8,157.8 393.2,159.9 395.8,162.0C398.4,164.1 400.6,169.5 401.5,171.0" stroke="#4a1280" stroke-width="8.3"/>
<path d="M379.0,164.5C380.2,163.4 383.2,158.6 386.0,158.2C388.8,157.8 393.2,159.9 395.8,162.0C398.4,164.1 400.6,169.5 401.5,171.0" stroke="#7422b0" stroke-width="5.300000000000001" transform="translate(-0.6,-0.5)"/>
<path d="M400.5,173.0C400.9,174.2 402.6,178.8 403.0,180.0" stroke="#b8a010" stroke-width="7.8"/>
<path d="M400.5,173.0C400.9,174.2 402.6,178.8 403.0,180.0" stroke="#e0d020" stroke-width="4.8" transform="translate(-0.6,-0.5)"/>
<path d="M406.0,178.0C406.8,176.8 409.2,172.7 411.0,171.0C412.8,169.3 414.4,167.6 417.0,167.6C419.6,167.6 424.9,170.4 426.5,171.0" stroke="#4a1280" stroke-width="8.3"/>
<path d="M406.0,178.0C406.8,176.8 409.2,172.7 411.0,171.0C412.8,169.3 414.4,167.6 417.0,167.6C419.6,167.6 424.9,170.4 426.5,171.0" stroke="#7422b0" stroke-width="5.300000000000001" transform="translate(-0.6,-0.5)"/>
<path d="M396,172 L403,171 L406,186 L397,188Z" fill="#d8d84a"/><circle cx="401" cy="193" r="8.2" fill="#eeee6e"/><circle cx="399" cy="191" r="4" fill="#f6f69a" opacity="0.8"/>
</g>
<g fill="none" stroke="#7bd34a" stroke-width="2.9"stroke-linecap="round"><line x1="376.5" y1="119.2" x2="375.6" y2="152.5"/><polyline points="368.8,141.3 375.6,152.9 382.7,140.4"/></g>
</g>
<!-- BLACK BAND -->
<rect x="14.2" y="266.8" width="502" height="41.1" fill="#000"/>
<text class="tr" x="87" y="296.3" font-size="23.4" fill="#4c62e8" textLength="132" lengthAdjust="spacingAndGlyphs">blue = linker ;</text>
<text class="tr" x="262.5" y="296.3" font-size="23.5" fill="#ffff66" xml:space="preserve" textLength="198" lengthAdjust="spacingAndGlyphs">yellow = SH  in  Cys</text>
<text class="tr" x="460.8" y="289.6" font-size="17" fill="#ffff66" textLength="22.7" lengthAdjust="spacingAndGlyphs">475</text>
<!-- PANEL B -->
<text class="sb" x="0.1" y="347.6" font-size="39.4">B</text>
<g id="chart">
<!-- frame -->
<rect x="65.2" y="355.6" width="379.5" height="277.4" fill="none" stroke="#000" stroke-width="2.7"/>
<g stroke="#000" stroke-width="2.2">
<line x1="59.5" y1="388" x2="65" y2="388"/>
<line x1="61" y1="415.9" x2="65" y2="415.9"/>
<line x1="61" y1="443.8" x2="65" y2="443.8"/>
<line x1="61" y1="471.7" x2="65" y2="471.7"/>
<line x1="61" y1="499.6" x2="65" y2="499.6"/>
<line x1="58" y1="527.5" x2="65" y2="527.5"/>
<line x1="445" y1="401.7" x2="451" y2="401.7"/>
<line x1="445" y1="449" x2="450" y2="449"/>
<line x1="445" y1="496.5" x2="450" y2="496.5"/>
<line x1="445" y1="544" x2="451" y2="544"/>
<line x1="65.5" y1="633" x2="65.5" y2="638.7"/>
<line x1="95.9" y1="633" x2="95.9" y2="638.7"/>
<line x1="126.2" y1="633" x2="126.2" y2="638.7"/>
<line x1="156.6" y1="633" x2="156.6" y2="638.7"/>
<line x1="186.9" y1="633" x2="186.9" y2="638.7"/>
<line x1="217.3" y1="633" x2="217.3" y2="638.7"/>
<line x1="247.7" y1="633" x2="247.7" y2="638.7"/>
<line x1="278.0" y1="633" x2="278.0" y2="638.7"/>
<line x1="308.4" y1="633" x2="308.4" y2="638.7"/>
<line x1="338.7" y1="633" x2="338.7" y2="638.7"/>
<line x1="369.1" y1="633" x2="369.1" y2="638.7"/>
<line x1="399.5" y1="633" x2="399.5" y2="638.7"/>
</g>
<!-- tick labels -->
<text class="sb" x="59.8" y="394" font-size="18.3" text-anchor="end">1.00</text>
<text class="sb" x="56.8" y="533.8" font-size="18.3" text-anchor="end">0.75</text>
<text class="sb" x="455.3" y="408.6" font-size="18.3">0.62</text>
<text class="sb" x="455.3" y="549.8" font-size="18.3">0.47</text>
<text class="sb" x="95.2" y="662.8" font-size="17.4" text-anchor="middle">17</text>
<text class="sb" x="246.2" y="662.8" font-size="17.4" text-anchor="middle">27</text>
<text class="sb" x="398.8" y="662.8" font-size="17.4" text-anchor="middle">37</text>
<text class="sb" x="160" y="700.6" font-size="25" textLength="206.3" lengthAdjust="spacingAndGlyphs">Temperature (°C)</text>
<!-- y label left -->
<g transform="translate(14.6,0) rotate(-90)">
<text class="sb" x="-519.5" y="0" font-size="15.8" textLength="143.5" lengthAdjust="spacingAndGlyphs">&lt; linker helicity &gt;</text>
</g>
<!-- y label right -->
<g transform="translate(513,0) rotate(-90)" class="sb" font-size="16.6">
<text x="-577.5" y="0" textLength="27" lengthAdjust="spacingAndGlyphs">Cys</text>
<text x="-549.5" y="-5.5" font-size="12" textLength="18" lengthAdjust="spacingAndGlyphs">475</text>
<text x="-525.3" y="0" textLength="52.5" lengthAdjust="spacingAndGlyphs">buried:</text>
<text x="-464.5" y="0" textLength="22.5" lengthAdjust="spacingAndGlyphs">&lt;A</text>
<text x="-441.6" y="4" font-size="12" textLength="29" lengthAdjust="spacingAndGlyphs">buried</text>
<text x="-413" y="0" textLength="19" lengthAdjust="spacingAndGlyphs">/A</text>
<text x="-394" y="4" font-size="11" textLength="12.5" lengthAdjust="spacingAndGlyphs">tot</text>
<text x="-381.5" y="0" textLength="9.5" lengthAdjust="spacingAndGlyphs">&gt;</text>
</g>
<!-- markers 17 -->
<rect x="89.3" y="391.2" width="8.2" height="8.2" fill="#000"/>
<polygon points="93.5,403.5 98.2,413.6 88.8,413.6" fill="#000"/>
<polygon points="93.5,418.5 98.2,427.7 88.8,427.7" fill="#999"/>
<rect x="89.3" y="436.6" width="8.2" height="8.2" fill="#999"/>
<!-- markers 27 -->
<rect x="240.8" y="400" width="9.2" height="9.5" fill="#000"/>
<polygon points="245.4,397 250.2,406.5 240.6,406.5" fill="#000"/>
<polygon points="245.4,406.5 250.2,415.7 240.6,415.7" fill="#999"/>
<rect x="240.8" y="400" width="9.2" height="9.5" fill="#000"/>
<rect x="240.8" y="430" width="9.2" height="9.2" fill="#999"/>
<!-- markers 37 -->
<rect x="392.6" y="397.7" width="9" height="8.8" fill="#000"/>
<polygon points="397.2,413.5 402,422.3 392.4,422.3" fill="#000"/>
<rect x="392.8" y="490.8" width="9" height="9" fill="#999"/>
<polygon points="397.4,512.3 402.3,521.5 392.7,521.5" fill="#999"/>
<!-- lines -->
<polyline points="93,432.7 245.5,423.3 397,507.7" fill="none" stroke="#e60000" stroke-width="5.4" stroke-linejoin="miter"/>
<polyline points="93,401.5 245.5,404.9 397.7,408.3" fill="none" stroke="#3a3aee" stroke-width="5.3"/>
<text class="sb" x="147.3" y="386" font-size="23.5" textLength="37.5" lengthAdjust="spacingAndGlyphs">WT</text>
<text class="sb" x="131" y="461.2" font-size="23.4" fill="#999" textLength="78" lengthAdjust="spacingAndGlyphs">Q471P</text>
<!-- inset -->
<g id="inset">
<rect x="209.5" y="510.2" width="160" height="92.3" fill="#fff" stroke="#333" stroke-width="1"/>
<polyline points="209.5,510 209.5,602.5 369.5,602.5" fill="none" stroke="#000" stroke-width="1.6"/>
<g stroke="#000" stroke-width="1.2">
<line x1="205.5" y1="510.2" x2="209.5" y2="510.2"/>
<line x1="207" y1="519.4" x2="209.5" y2="519.4"/>
<line x1="207" y1="528.7" x2="209.5" y2="528.7"/>
<line x1="207" y1="537.9" x2="209.5" y2="537.9"/>
<line x1="207" y1="547.1" x2="209.5" y2="547.1"/>
<line x1="205.5" y1="556.4" x2="209.5" y2="556.4"/>
<line x1="207" y1="565.6" x2="209.5" y2="565.6"/>
<line x1="207" y1="574.8" x2="209.5" y2="574.8"/>
<line x1="207" y1="584.0" x2="209.5" y2="584.0"/>
<line x1="207" y1="593.3" x2="209.5" y2="593.3"/>
<line x1="205.5" y1="602.5" x2="209.5" y2="602.5"/>
<line x1="209.5" y1="601" x2="209.5" y2="604.5"/>
<line x1="219.5" y1="601" x2="219.5" y2="604.5"/>
<line x1="229.5" y1="601" x2="229.5" y2="604.5"/>
<line x1="239.5" y1="601" x2="239.5" y2="604.5"/>
<line x1="249.5" y1="601" x2="249.5" y2="604.5"/>
<line x1="259.5" y1="601" x2="259.5" y2="604.5"/>
<line x1="269.5" y1="601" x2="269.5" y2="604.5"/>
<line x1="279.5" y1="601" x2="279.5" y2="604.5"/>
<line x1="289.5" y1="601" x2="289.5" y2="604.5"/>
<line x1="299.5" y1="601" x2="299.5" y2="604.5"/>
<line x1="309.5" y1="601" x2="309.5" y2="604.5"/>
<line x1="319.5" y1="601" x2="319.5" y2="604.5"/>
<line x1="329.5" y1="601" x2="329.5" y2="604.5"/>
<line x1="339.5" y1="601" x2="339.5" y2="604.5"/>
<line x1="349.5" y1="601" x2="349.5" y2="604.5"/>
<line x1="359.5" y1="601" x2="359.5" y2="604.5"/>
<line x1="369.5" y1="601" x2="369.5" y2="604.5"/>
</g>
<polyline fill="none" stroke="#4a4ae8" stroke-width="1.1" points="209.5,510.3 218,511.5 230,515.5 242.5,515.5 255,514.3 270,513.75 280,518.25 290,515 298.75,516.25 308.75,512 320,510.5 330,513.75 340,513 350,516.25 360,513 369.5,513"/>
<polyline fill="none" stroke="#dd3030" stroke-width="1.2" points="209.5,510.3 225,511 237.5,513 241,514 250,530 259,530 266.25,550 271.25,562.5 280,592.5 289.25,593.25 300,575 306.25,550 310,532.5 330,521.25 340,520.75 347.5,516.25 360,512.5 369.5,513"/>
<text class="sb" x="206.3" y="514.4" font-size="10.8" text-anchor="end">1.00</text>
<text class="sb" x="206.3" y="560.5" font-size="10.8" text-anchor="end">0.75</text>
<text class="sb" x="206.3" y="606.7" font-size="10.8" text-anchor="end">0.50</text>
<text class="sb" x="210.5" y="616.3" font-size="10.5" text-anchor="middle">463</text>
<text class="sb" x="249.5" y="616.3" font-size="10.5" text-anchor="middle">467</text>
<text class="sb" x="289.5" y="616.3" font-size="10.5" text-anchor="middle">471</text>
<text class="sb" x="330.5" y="616.3" font-size="10.5" text-anchor="middle">475</text>
<text class="sb" x="372" y="616.3" font-size="10.5" text-anchor="middle">479</text>
<text class="sb" x="260" y="627.3" font-size="12.3" textLength="56" lengthAdjust="spacingAndGlyphs">residue #</text>
<text class="sb" x="218.5" y="590" font-size="16" textLength="36" lengthAdjust="spacingAndGlyphs">37°C</text>
<text class="sb" x="279.5" y="534.5" font-size="13.5">WT</text>
<text class="sb" x="309" y="575" font-size="13.7" fill="#999" textLength="44" lengthAdjust="spacingAndGlyphs">Q471P</text>
<text class="sb" transform="translate(176.3,584) rotate(-90)" font-size="12" textLength="58.5" lengthAdjust="spacingAndGlyphs">&lt;helicity&gt;</text>
</g>
<!-- arrow -->
<g stroke="#000" stroke-width="1.3" fill="none" stroke-linecap="round">
<line x1="368.5" y1="553.5" x2="388.5" y2="533.8"/>
<polyline points="375.4,537.7 388.5,533.8 385,547"/>
</g>
</g>
</svg>
</body></html>
